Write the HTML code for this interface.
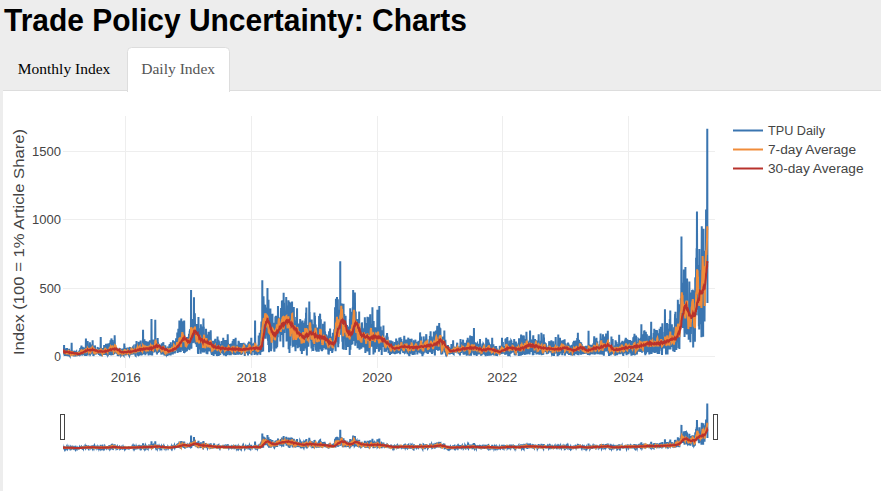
<!DOCTYPE html>
<html><head><meta charset="utf-8"><title>Trade Policy Uncertainty: Charts</title>
<style>
html,body{margin:0;padding:0;width:881px;height:491px;overflow:hidden;background:#ededed}
svg{display:block}
.t{font-family:"Liberation Sans",sans-serif;fill:#444;font-size:12px}
.s{font-family:"Liberation Serif",serif;font-size:15px}
.ln path,.ln use{vector-effect:non-scaling-stroke}
</style></head><body>
<svg width="881" height="491" viewBox="0 0 881 491">
<defs>
<clipPath id="clipMain"><rect x="63" y="116" width="652" height="252"/></clipPath>
<clipPath id="clipSl"><rect x="63" y="398" width="652" height="58"/></clipPath>
<path id="pb" vector-effect="non-scaling-stroke" d="M0 30l1 20 1-27 1 12 1 4 1 3 1-3 1-19 1 63 1-62 1-11 1 30 1-36 1 17 1-13 1 51 1-42 1 43 1-23 1-13 1 11 1 11 1-32 1-10 1 38 1 20 1-24 1 1 1-8 1-28 1 11 1-1 1 16 1 8 1-2 1 14 1-26 1 33 1-51 1 28 1-26 1-2 1 33 1-21 1 15 1 12 1-31 1 29 1-35 1 8 1-8 1 11 1 83 1-92 1 6 1 23 1-1 1-29 1 34 1-34 1 21 1-13 1 11 1-8 1-10 1-7 1 19 1-2 1 23 1-8 1-24 1 0 1 5 1 12 1-25 1 22 1 3 1-17 1 21 1 2 1-16 1 2 1-4 1-12 1 22 1-13 1 13 1-6 1 1 1-5 1 9 1 2 1-2 1-18 1 4 1 3 1-1 1 13 1-1 1 23 1-14 1-27 1 55 1-27 1-1 1 9 1 16 1 6 1-50 1 66 1-60 1-5 1 11 1 5 1-18 1-6 1 63 1-21 1-13 1 9 1-17 1 36 1-52 1 20 1 34 1-50 1 25 1 10 1-5 1 15 1-57 1 47 1-14 1 22 1-5 1 77 1-96 1 10 1-41 1 41 1-4 1 13 1 35 1-33 1-32 1 89 1-81 1-9 1-2 1-12 1 24 1 15 1 21 1-5 1-50 1 28 1-35 1 57 1 40 1-43 1-36 1 12 1 33 1-49 1 2 1 16 1 44 1-35 1 2 1 31 1 0 1-43 1-16 1 32 1 65 1-79 1-17 1 47 1-67 1 29 1-10 1-15 1 22 1 27 1-21 1 2 1-20 1 64 1-13 1-51 1 20 1 5 1-27 1 38 1-23 1 5 1-6 1 2 1 8 1 13 1-31 1 11 1-5 1 38 1 3 1-40 1-6 1 11 1-9 1 8 1-21 1 23 1 24 1-38 1 12 1 31 1-45 1-11 1 52 1-39 1 37 1 86 1-101 1-22 1 29 1-32 1-15 1 8 1 33 1-22 1 17 1-25 1 33 1 16 1-26 1 11 1-16 1-20 1 19 1 5 1 11 1 38 1-34 1-25 1 18 1-32 1 57 1-10 1-40 1 33 1-32 1 56 1 17 1-45 1 0 1-30 1 8 1-17 1 57 1 20 1-76 1 18 1 67 1-56 1-25 1 2 1 39 1 38 1-68 1-12 1 79 1 1 1-33 1-4 1 44 1-69 1 37 1-23 1 75 1-88 1-22 1 9 1 2 1 106 1 5 1-107 1 0 1 4 1 89 1 3 1-79 1-30 1 6 1-6 1 64 1-41 1 22 1 7 1-47 1 48 1 44 1-86 1 133 1-60 1-46 1 21 1-8 1-31 1-6 1 46 1-35 1 31 1-45 1 13 1-15 1 5 1 3 1-1 1 28 1-17 1-35 1 5 1 35 1 0 1 1 1-42 1 21 1 21 1 9 1-34 1 39 1 3 1-13 1-35 1 10 1-7 1 21 1 5 1-35 1 39 1-35 1 2 1 43 1-31 1-5 1 21 1-14 1 12 1 19 1-51 1 3 1 26 1-23 1 0 1-2 1 37 1 3 1-33 1 77 1-44 1 2 1-43 1 15 1-7 1 44 1-24 1 1 1-30 1 8 1 3 1 42 1-43 1 1 1 10 1-7 1 17 1 26 1-34 1 32 1-38 1 31 1-39 1-6 1 45 1 1 1-44 1-3 1-3 1 6 1 54 1-57 1 59 1-61 1 54 1-42 1 36 1-31 1 27 1 0 1 1 1-12 1-29 1 30 1 17 1-37 1 23 1-24 1 43 1 2 1-38 1 32 1-32 1 19 1-34 1 45 1-15 1 11 1 0 1-23 1 26 1-13 1 0 1 44 1-82 1-1 1 26 1-3 1 29 1-21 1 76 1-54 1-15 1-4 1 50 1-32 1 10 1 1 1-57 1-1 1 5 1 29 1 22 1 39 1-100 1 34 1 61 1 0 1-15 1-11 1-49 1-16 1 19 1 15 1 72 1-37 1-18 1-22 1-7 1-24 1 10 1 7 1 51 1 10 1-29 1-44 1 28 1 40 1 115 1-133 1-34 1-9 1 28 1 24 1-45 1 39 1 60 1-88 1 19 1-41 1 16 1-23 1 54 1 50 1-12 1-34 1 39 1-85 1 11 1 51 1-51 1 4 1 2 1-12 1 24 1 59 1-55 1-17 1 36 1 2 1-67 1 102 1-58 1-33 1 71 1-7 1 16 1-86 1 98 1 0 1-93 1 92 1-75 1-20 1 45 1-50 1 31 1 233 1-200 1-29 1 15 1-53 1 36 1-5 1 18 1-25 1 93 1-79 1 32 1 24 1-17 1-55 1 23 1 31 1-49 1 71 1 13 1-18 1-6 1 174 1-205 1-16 1 45 1-56 1 21 1-8 1 63 1-89 1 6 1-14 1 65 1-55 1 44 1 66 1-109 1 73 1-3 1-41 1 36 1-28 1 10 1 17 1-17 1 1 1-40 1 27 1-24 1 23 1 24 1-30 1-11 1-16 1 33 1 13 1-51 1-8 1 56 1 26 1-66 1 30 1-2 1 31 1 1 1-62 1 43 1 26 1 7 1-90 1 20 1 25 1-23 1-3 1-25 1 3 1 22 1-15 1 29 1 35 1-45 1 23 1-43 1-2 1 31 1 4 1-2 1 0 1-18 1 24 1-34 1 43 1-60 1 69 1-52 1 30 1-15 1 23 1-48 1 31 1 17 1 2 1-47 1 72 1-46 1 52 1-50 1-15 1-4 1 28 1-43 1 97 1-49 1 27 1-52 1 16 1-30 1 15 1 43 1-14 1-27 1 20 1 26 1-65 1 104 1-70 1 63 1-56 1 39 1-34 1 31 1 14 1-66 1-11 1 23 1-28 1 36 1-23 1 77 1-58 1-4 1 2 1 81 1-81 1 21 1 42 1 3 1-77 1 73 1 60 1-80 1-70 1 49 1 3 1 13 1 113 1-68 1-76 1 120 1-146 1 34 1 195 1-204 1 95 1 73 1-194 1 129 1-123 1 0 1-5 1 36 1 37 1 171 1-82 1-25 1-17 1-79 1 46 1 138 1-66 1 30 1-172 1 116 1-126 1 30 1 137 1-124 1 76 1-133 1 236 1-96 1-17 1-64 1 59 1-109 1 1 1 58 1-61 1 50 1 31 1 20 1-34 1-54 1 63 1 33 1-104 1 94 1-30 1 34 1-10 1 7 1 0 1 2 1-81 1 89 1-48 1 25 1 46 1-32 1-87 1 15 1 125 1-56 1 56 1-1 1-1 1-53 1 58 1-56 1 351 1-427 1 5 1 112 1 40 1-29 1-52 1 136 1-63 1-110 1 176 1-94 1 34 1-102 1 136 1-124 1-17 1 326 1-328 1 68 1-72 1 90 1 125 1-105 1-73 1 47 1-57 1-37 1 47 1-28 1-12 1 5 1 23 1-56 1 168 1-78 1-3 1-29 1 84 1-56 1-133 1 128 1-132 1 271 1-237 1 28 1-18 1 52 1 65 1-100 1 128 1-123 1 31 1 16 1 1 1-27 1-85 1 215 1-177 1 80 1-19 1-39 1 139 1-137 1-44 1 88 1-50 1-31 1-7 1-7 1 153 1-4 1 97 1-229 1 169 1-101 1-27 1-60 1 55 1-13 1-31 1 30 1-25 1 80 1 30 1-69 1 33 1 83 1-95 1 44 1-131 1 104 1 36 1-138 1 119 1-125 1 83 1-62 1 13 1 69 1 41 1-64 1 85 1-144 1 17 1 23 1 10 1 23 1-62 1-4 1 130 1-77 1-59 1 78 1 76 1-74 1-81 1 20 1-35 1 43 1-36 1-17 1 56 1-22 1-32 1 66 1 32 1-83 1 86 1-93 1 70 1-89 1 102 1-11 1 13 1-25 1 10 1-43 1-33 1 106 1-89 1 96 1-101 1 50 1-41 1 42 1-63 1 56 1-16 1 51 1-104 1 15 1 52 1-21 1 97 1-99 1-31 1 64 1 36 1 6 1-119 1 55 1-6 1 39 1-82 1 102 1-85 1-14 1 26 1 8 1-33 1 72 1-15 1-27 1 30 1-2 1 4 1 2 1-28 1 64 1-45 1 30 1-72 1 17 1 25 1-47 1 28 1 88 1-89 1 73 1-112 1 42 1-44 1 24 1 0 1 51 1 7 1-56 1 1 1-24 1 103 1 0 1-80 1-31 1 80 1-75 1 62 1 42 1-99 1 44 1-45 1 23 1 16 1 113 1-77 1-64 1 70 1-26 1-13 1-18 1 23 1 28 1-58 1-19 1 82 1-33 1 9 1-10 1-30 1 0 1 46 1-64 1 37 1 48 1-28 1-34 1 22 1-15 1-18 1 5 1 26 1 42 1 18 1-70 1-23 1 96 1-88 1 101 1-115 1 38 1-14 1 13 1 40 1-24 1-37 1-4 1-4 1 1 1 18 1 97 1-126 1 35 1 40 1-57 1 51 1-57 1 14 1 48 1-51 1-9 1 56 1-16 1 11 1-63 1 9 1 57 1 35 1-79 1 73 1-92 1 11 1 59 1-51 1 3 1-18 1-3 1 81 1-19 1-30 1-35 1 11 1-14 1 63 1-53 1 77 1-43 1-39 1 24 1 14 1 5 1 19 1-25 1 28 1 14 1-53 1 39 1 19 1-37 1-25 1 49 1-52 1-8 1-23 1 18 1 15 1 35 1-21 1 15 1-30 1 45 1-58 1 51 1-2 1-27 1-9 1 31 1-28 1 34 1 6 1-20 1-22 1-29 1 84 1 2 1-20 1 26 1-79 1 86 1-28 1 24 1-23 1-22 1-33 1 8 1 10 1-24 1 17 1 15 1 40 1-63 1 108 1-105 1-21 1 44 1-8 1 27 1-42 1 11 1 33 1 20 1-45 1 35 1-24 1 1 1 9 1 12 1-2 1-1 1-50 1-18 1 54 1-17 1 213 1-193 1-2 1-43 1 9 1-8 1 43 1-6 1-28 1-17 1 64 1-5 1-32 1-35 1 54 1-49 1 14 1 34 1-40 1 65 1-52 1 119 1-115 1 4 1-19 1 81 1-81 1 149 1-124 1 42 1-79 1 49 1-32 1 33 1 131 1-77 1 104 1 35 1-222 1 115 1 59 1-150 1 500 1-420 1 236 1-241 1 179 1-275 1 259 1 145 1-80 1-228 1 33 1 82 1 93 1-85 1 123 1-5 1-3 1-156 1 71 1-155 1 93 1 135 1-189 1 113 1-100 1 139 1-162 1 161 1 21 1-124 1 283 1-328 1-35 1-22 1 92 1-123 1 330 1-262 1 21 1-142 1 171 1 70 1-30 1-128 1 81 1-137 1 144 1 148 1-192 1-89 1 15 1-46 1 60 1-42 1 193 1-89 1 16 1 31 1-4 1 109 1-184 1 2 1 104 1-69 1-42 1 61 1 19 1 43 1-114 1-84 1-12 1 13 1 132 1 50 1-77 1-1 1 138 1-159 1 60 1 18 1 88 1-240 1 188 1 26 1 24 1-27 1-202 1 29 1 75 1 27 1-58 1 229 1-48 1-74 1 40 1-10 1-5 1-96 1 39 1 65 1-36 1-26 1-30 1-19 1 11 1-70 1 99 1 22 1-15 1 138 1-116 1-50 1-30 1 17 1 232 1-15 1-177 1 195 1-201 1-23 1-3 1-30 1-86 1 117 1 282 1-231 1 157 1-137 1-84 1 56 1 77 1-55 1 78 1-48 1-13 1-63 1 113 1-68 1 64 1 122 1-152 1-173 1 86 1-74 1 185 1-116 1 135 1-126 1 123 1-132 1 183 1-134 1 172 1-358 1 320 1-294 1 229 1 91 1-373 1 147 1 25 1-39 1 28 1-109 1 124 1-15 1-33 1 62 1 178 1-224 1 199 1-4 1-112 1 148 1-178 1-56 1-12 1-71 1 2 1 31 1 17 1 58 1-120 1 289 1-102 1-1 1 5 1-169 1 64 1 42 1 39 1-112 1-58 1-30 1 113 1-66 1 53 1 149 1-140 1 46 1-57 1 107 1 109 1-234 1 114 1-93 1-79 1 30 1 84 1 45 1-94 1 115 1-30 1-16 1-78 1-50 1 37 1 51 1-55 1 50 1 123 1-13 1-150 1-63 1-1 1 72 1-44 1 87 1-16 1-37 1-90 1 190 1 46 1-80 1 89 1-185 1 59 1-4 1 9 1 13 1-100 1-14 1 29 1 87 1 87 1-8 1-153 1 165 1-104 1 116 1-112 1 130 1-205 1-14 1 261 1-97 1 134 1-312 1 169 1-206 1 215 1-133 1 51 1-56 1 7 1 50 1 88 1-121 1-38 1 48 1 28 1 67 1-10 1 197 1-266 1 190 1-86 1-21 1-42 1-41 1-5 1 84 1-81 1-15 1 13 1-46 1-27 1 212 1-36 1-83 1 74 1-167 1 2 1 76 1 99 1-25 1-169 1 31 1-6 1 77 1-54 1 40 1-27 1 219 1-120 1-117 1 214 1-159 1 83 1-15 1 27 1-190 1 151 1-54 1-88 1 54 1-73 1 122 1-4 1 59 1-86 1 11 1 14 1-64 1 27 1 51 1-47 1 40 1-123 1 52 1 210 1-113 1-52 1-77 1 78 1 176 1 4 1-225 1 69 1-44 1 159 1-174 1 65 1-118 1 102 1-51 1 0 1-57 1 92 1-85 1 98 1-96 1 75 1 117 1-121 1 96 1-150 1 129 1-114 1 24 1-40 1 75 1 117 1-180 1 105 1-2 1-63 1-64 1 34 1 75 1-98 1 47 1 53 1-101 1 95 1-68 1-31 1 67 1-65 1-4 1-4 1 72 1 4 1-48 1-62 1 131 1-134 1 25 1 146 1-116 1 99 1-126 1 91 1 10 1 62 1-164 1 48 1-37 1 87 1-22 1 28 1-98 1 31 1 2 1 0 1 5 1-60 1 69 1-59 1 44 1 94 1-122 1 17 1 26 1 5 1-28 1 50 1-5 1 82 1-116 1 46 1-2 1 120 1 114 1-108 1-168 1-45 1 190 1 193 1-77 1-80 1-18 1-45 1-94 1 326 1-257 1-6 1 222 1-220 1 245 1-286 1-65 1 113 1-87 1 53 1 63 1-37 1 170 1-96 1 19 1-37 1-65 1-5 1 538 1-468 1 117 1-97 1 102 1 9 1 12 1 14 1-3 1-105 1 23 1-123 1-70 1 134 1-16 1-172 1 85 1-38 1 209 1 76 1-210 1-126 1 218 1 44 1-172 1 15 1-21 1 93 1-52 1 12 1 69 1 42 1-130 1-25 1-94 1 141 1-68 1 36 1-1 1 73 1-41 1-19 1-59 1 79 1-88 1-31 1 124 1-10 1 2 1-40 1 72 1-86 1-29 1-11 1 79 1-160 1 260 1-51 1 133 1-303 1 132 1 48 1-146 1 98 1 88 1-74 1-27 1 150 1-232 1 239 1-151 1-88 1 103 1 169 1-102 1 228 1-111 1-49 1-171 1 279 1-155 1 16 1-124 1-57 1 12 1 342 1-132 1-256 1 174 1-113 1 188 1-197 1 41 1-76 1 166 1 11 1-105 1 54 1-102 1 26 1-28 1-57 1 98 1-67 1 43 1 119 1 18 1-3 1 1 1-107 1 165 1-225 1-54 1 139 1-10 1-117 1 74 1-27 1-38 1 98 1-79 1 65 1-96 1 5 1 156 1-80 1 110 1-45 1-137 1 143 1-71 1-37 1 98 1-36 1 30 1-126 1 128 1-51 1 34 1 26 1-139 1 27 1 35 1 159 1-107 1-99 1-55 1 143 1-103 1 37 1-51 1 112 1 53 1-76 1 104 1-144 1 51 1-115 1 254 1-174 1-30 1 5 1-52 1 146 1 100 1-220 1 86 1-109 1 29 1-40 1-20 1 52 1 89 1 97 1 59 1-166 1 27 1 66 1-73 1 15 1-96 1 47 1 2 1 68 1-128 1 16 1 20 1 253 1-209 1-70 1 81 1 50 1-118 1-80 1 245 1-161 1-67 1 133 1-22 1 13 1-47 1-5 1-73 1 183 1-8 1-6 1-9 1-36 1-81 1 116 1-1 1-89 1-44 1 50 1 88 1 2 1 147 1-262 1 10 1 110 1-35 1-64 1-24 1-6 1 63 1-99 1 51 1 283 1-241 1-80 1 68 1-57 1 26 1 98 1-84 1 119 1-137 1 62 1-74 1-13 1 130 1-175 1 180 1-7 1-6 1-30 1-74 1 91 1-95 1 57 1-38 1 137 1-131 1-9 1 37 1-39 1 46 1-96 1 29 1 10 1-34 1 73 1-78 1 88 1-70 1 15 1-32 1 87 1 31 1-103 1 40 1 25 1 57 1-30 1-88 1 88 1-6 1-86 1 43 1-2 1-40 1-27 1 47 1 15 1 1 1 3 1-54 1 82 1-69 1-37 1 35 1-9 1-19 1 53 1-51 1 89 1 0 1-69 1-22 1 37 1 4 1-11 1 54 1-78 1 86 1-53 1 6 1-26 1 19 1 27 1-48 1 15 1-12 1 55 1-75 1 33 1-16 1 69 1-89 1 40 1 39 1-4 1-52 1 40 1-47 1 99 1-80 1-2 1-28 1 85 1 8 1-54 1 11 1-30 1 60 1-70 1 0 1 1 1 15 1 23 1-6 1-36 1 33 1 76 1-62 1 51 1-81 1 22 1-50 1 69 1 55 1-44 1-2 1 31 1-81 1 82 1-69 1 3 1-17 1 10 1 55 1-42 1-25 1-4 1 21 1-5 1-29 1 27 1-2 1-12 1-2 1 80 1 35 1-35 1 7 1-103 1 36 1 10 1-26 1 18 1 63 1-5 1-19 1-25 1-42 1 94 1-27 1-32 1 9 1-24 1-20 1-12 1 11 1 68 1-52 1 86 1 6 1-103 1 64 1-90 1 48 1-3 1-51 1 44 1 14 1 36 1-54 1 86 1-101 1 1 1 100 1-75 1 49 1-12 1 32 1 8 1-107 1 14 1 61 1-83 1 60 1-54 1-10 1 58 1 11 1-43 1 5 1-12 1 86 1-84 1 76 1-1 1-10 1-84 1 73 1-8 1 0 1 45 1-53 1-11 1-10 1 50 1-64 1 65 1-42 1 7 1 43 1-21 1-72 1 73 1-43 1 2 1-6 1-6 1 49 1 31 1-51 1-12 1-4 1 6 1 5 1-31 1 70 1-50 1 128 1-57 1-31 1-6 1 27 1 36 1-55 1-6 1-66 1 86 1-42 1-7 1 2 1-42 1-13 1 82 1 1 1-55 1 2 1-18 1 132 1-6 1-53 1-19 1-9 1 65 1-97 1 37 1 49 1-76 1 31 1 45 1-21 1-30 1 12 1 66 1 23 1-36 1-16 1-88 1 65 1-1 1-62 1 69 1-33 1-42 1 10 1 59 1-25 1 12 1-7 1 0 1-25 1 48 1 35 1-68 1-16 1 108 1-118 1 90 1-8 1 71 1-86 1 6 1-75 1 23 1 67 1 25 1-22 1-105 1 69 1-62 1 5 1 38 1 14 1-4 1-21 1 46 1 8 1-31 1 103 1-106 1 53 1-88 1 104 1-117 1-21 1 133 1-32 1 15 1 43 1-3 1 26 1-115 1 96 1-91 1 23 1-41 1-14 1 154 1 22 1-177 1 34 1-4 1-34 1 49 1-48 1 124 1-124 1 152 1-137 1 185 1-199 1 164 1-2 1-159 1 74 1 81 1 3 1-117 1 20 1-10 1-32 1-53 1 23 1 5 1-23 1 31 1 69 1-103 1 36 1 50 1-47 1 84 1 5 1-16 1-55 1 37 1-26 1-32 1-4 1 142 1-92 1-69 1 6 1 23 1 0 1 64 1-48 1-36 1 2 1-29 1-3 1 2 1 28 1 5 1-16 1-10 1 40 1 18 1-47 1-11 1 67 1-65 1 51 1-26 1-16 1 36 1 0 1-37 1 12 1 0 1-24 1 46 1-37 1 16 1-12 1 18 1-22 1-4 1 44 1-41 1 69 1-62 1 30 1-25 1-10 1-4 1 12 1 10 1 41 1-62 1 97 1-87 1-13 1-1 1 54 1-31 1-14 1 24 1-12 1 19 1-19 1 18 1-20 1 21 1-30 1 15 1 19 1 3 1-36 1 43 1-26 1-12 1 42 1 17 1 7 1-45 1-20 1 11 1-11 1 37 1-13 1-38 1 4 1-1 1 48 1-15 1-9 1-12 1 3 1 18 1-50 1 30 1 17 1 74 1-64 1-17 1 9 1-31 1 27 1 51 1-40 1 14 1 13 1-51 1 3 1 52 1-52 1 66 1 15 1-70 1-36 1 11 1-15 1 75 1-42 1 3 1-32 1 57 1-53 1-5 1 85 1-13 1-30 1-19 1 41 1-65 1 33 1 37 1-5 1-75 1 113 1-49 1-41 1 6 1 78 1 25 1-24 1-4 1 13 1-90 1-20 1 13 1 10 1 8 1-37 1 48 1-9 1-29 1 35 1 103 1-122 1 53 1-58 1 46 1-67 1 80 1 63 1-92 1-30 1 69 1 52 1-87 1-31 1 6 1 27 1-22 1 57 1-35 1 9 1-55 1 85 1 106 1-186 1-12 1 28 1-24 1 15 1 51 1 23 1-12 1-78 1 27 1-12 1-13 1 75 1-15 1 14 1-86 1 87 1 2 1-75 1 50 1-39 1 52 1-18 1-44 1 63 1-65 1 17 1 56 1 3 1-68 1 22 1-17 1 4 1 46 1 49 1-99 1 15 1-21 1-6 1 15 1-27 1 74 1-36 1-32 1 3 1 38 1-18 1-18 1 71 1 7 1-79 1 39 1-3 1 21 1 18 1-2 1-10 1 5 1-11 1-49 1 0 1 24 1 15 1-21 1-29 1 54 1-25 1-39 1 49 1-38 1 124 1-78 1-22 1-4 1 15 1 52 1-40 1-17 1 43 1-73 1-8 1 115 1 4 1-78 1 61 1-94 1 87 1-36 1-41 1-7 1-10 1 30 1 44 1-45 1 54 1-29 1-17 1-7 1-5 1-21 1 3 1 49 1-40 1 28 1-6 1 93 1-93 1-24 1 4 1 13 1-23 1 52 1 24 1-41 1 1 1-14 1-29 1 18 1 25 1-21 1 39 1 6 1-54 1-1 1-11 1 61 1-63 1 36 1 35 1-46 1-2 1-17 1-7 1 52 1-12 1-21 1-3 1 5 1 9 1-6 1-4 1 24 1-28 1 7 1-4 1 0 1-5 1 29 1-19 1 43 1 0 1-50 1-8 1 33 1 7 1 18 1 0 1 1 1 1 1-56 1 48 1-39 1 110 1-92 1-11 1-13 1 9 1 75 1-81 1 3 1 12 1-12 1 24 1-16 1 33 1-45 1 3 1 50 1-41 1 29 1-11 1-41 1 117 1-89 1 88 1-55 1 60 1-84 1 35 1-1 1-69 1 85 1-85 1 128 1-95 1 13 1 54 1-40 1-64 1 0 1 82 1-46 1-1 1 29 1 7 1-62 1-2 1 47 1 7 1 46 1-76 1-22 1 45 1-22 1 21 1-40 1 90 1-2 1-84 1 17 1 4 1 0 1 47 1 4 1-25 1 1 1-45 1 69 1-62 1-5 1 22 1-20 1 43 1 51 1-97 1-6 1-15 1 45 1-34 1-6 1-7 1 64 1-61 1 98 1-69 1 44 1-31 1-25 1 28 1-28 1 45 1 2 1-21 1 33 1-46 1 30 1-43 1 61 1 10 1-95 1 45 1 85 1-125 1 27 1 39 1-36 1-31 1 38 1 8 1 7 1 66 1-122 1 95 1 60 1-124 1 45 1 5 1-4 1-71 1 11 1 36 1-6 1 31 1 71 1-29 1-95 1-15 1 11 1-11 1 138 1-90 1 29 1-46 1 82 1-5 1-47 1-64 1 110 1-105 1 69 1-6 1 30 1 0 1-10 1 81 1-63 1-104 1 91 1-34 1-46 1 0 1 84 1-12 1-72 1 77 1-38 1 26 1 17 1-19 1-12 1 1 1 39 1-101 1 20 1 50 1 105 1-65 1-91 1 93 1-71 1-20 1 44 1-38 1 81 1-52 1-38 1 72 1 10 1-12 1-47 1 56 1-103 1 17 1 112 1 17 1-144 1 74 1-48 1-2 1-9 1 70 1-71 1 75 1 0 1 27 1-33 1-19 1 39 1 0 1-3 1-37 1 37 1-96 1 23 1 78 1-99 1 47 1-5 1-42 1 17 1 14 1-20 1 10 1 39 1 12 1 74 1-59 1-75 1 26 1-42 1 39 1 18 1 26 1-4 1-51 1-24 1 76 1-47 1 68 1-35 1-35 1 129 1-141 1-22 1 31 1 0 1-24 1 39 1-14 1-27 1 24 1-15 1-12 1 73 1 78 1-84 1 60 1-103 1 26 1 1 1-29 1 70 1-59 1 18 1-10 1-5 1 7 1 42 1-48 1-4 1-2 1 10 1-36 1 39 1 11 1-46 1 45 1-3 1-1 1 2 1-43 1 37 1-16 1 40 1-36 1 22 1 36 1 8 1-58 1-9 1-14 1 7 1 30 1-3 1-27 1 23 1-17 1 10 1 41 1 24 1-85 1-10 1-5 1 3 1 29 1-17 1-29 1 52 1-10 1 38 1 27 1-68 1 3 1 27 1-70 1 21 1 12 1 39 1 11 1-64 1 25 1 17 1 4 1 3 1 70 1-73 1-47 1 23 1-7 1 27 1-28 1 29 1-10 1 7 1 12 1-66 1 0 1 21 1 46 1 84 1-115 1-4 1 0 1-32 1 58 1-53 1 53 1-52 1 71 1 50 1-61 1 14 1-65 1 25 1-7 1-11 1 57 1-61 1 90 1-15 1-52 1 52 1-92 1 17 1 67 1 7 1-61 1 56 1-41 1 66 1-61 1 25 1-46 1-11 1 4 1-2 1 96 1-119 1 8 1 43 1-12 1 46 1 3 1-44 1 18 1-22 1-9 1 8 1 17 1 14 1-47 1-6 1 59 1-10 1-52 1 54 1 27 1-19 1-65 1 75 1-56 1-25 1 42 1-30 1 10 1-2 1 50 1-32 1 11 1-5 1-28 1 19 1-31 1 44 1-8 1 26 1-69 1 10 1-1 1 67 1-76 1 19 1 3 1-6 1 30 1-36 1 85 1-74 1 42 1-51 1 93 1-76 1-31 1 56 1 36 1-31 1-36 1-2 1-1 1 34 1-13 1 67 1-61 1-6 1 60 1-60 1 11 1-15 1-32 1 121 1-120 1 43 1-16 1 131 1-162 1 34 1-9 1-26 1 39 1 71 1-4 1-70 1 62 1-33 1 26 1 4 1-65 1-18 1 79 1-58 1 46 1-77 1 91 1-63 1-13 1 63 1-22 1 9 1-51 1-3 1 27 1-33 1 32 1 17 1 2 1 0 1 7 1-44 1 18 1 7 1-36 1 7 1 1 1 8 1-13 1 52 1-48 1 6 1 6 1-18 1 58 1-49 1 19 1-22 1 25 1-11 1 37 1-33 1-23 1 9 1 42 1-62 1 65 1-43 1-2 1 157 1-170 1 56 1 0 1 1 1-47 1-18 1 71 1 4 1-69 1 14 1 56 1-49 1-16 1 5 1 60 1-35 1 30 1-65 1 39 1 23 1 7 1-59 1-1 1 33 1 7 1 19 1-24 1 29 1 0 1-60 1 35 1 43 1 40 1-126 1 36 1-19 1-24 1 55 1-52 1 21 1 51 1-52 1 7 1 86 1-103 1 110 1-48 1 16 1-75 1 60 1 22 1-96 1 39 1 31 1-21 1-48 1 45 1-30 1 11 1-7 1 8 1 33 1 7 1-15 1 20 1-74 1 17 1 84 1-19 1 71 1-41 1-48 1 28 1 20 1-91 1 32 1-54 1 13 1 15 1 75 1-95 1 18 1 77 1 45 1-71 1 10 1-18 1-3 1-74 1 72 1 67 1-109 1 8 1 40 1 3 1-31 1 79 1-51 1-46 1 12 1-1 1 119 1-132 1 111 1-51 1-5 1-51 1 67 1-6 1-3 1 0 1 90 1-113 1-12 1-14 1-24 1 81 1-48 1-54 1 75 1-29 1-22 1 13 1 5 1 24 1-20 1 14 1-46 1-9 1 46 1 7 1-40 1 124 1-89 1-40 1 17 1 27 1-17 1 16 1 68 1-109 1 5 1 17 1-15 1 0 1 10 1 24 1-23 1 13 1 19 1-9 1-25 1 45 1-34 1-41 1 43 1 70 1-101 1 72 1-59 1-5 1 77 1-1 1-19 1-27 1-45 1 12 1 11 1 14 1-29 1 12 1 62 1-50 1-10 1 8 1 8 1-12 1 122 1-122 1 67 1-64 1-11 1-11 1 69 1-65 1 10 1 51 1-8 1 14 1 0 1 3 1-8 1 13 1-73 1 46 1-4 1 50 1-99 1 57 1-62 1 27 1-34 1 59 1 5 1-46 1 87 1-36 1-51 1 48 1-33 1 32 1 47 1-48 1 57 1-77 1 88 1-90 1 87 1-94 1-7 1-23 1 25 1 1 1 3 1 88 1-31 1-4 1-19 1-46 1 70 1-6 1-73 1 96 1 0 1-67 1 12 1 2 1-30 1 60 1-55 1 38 1 47 1-49 1-41 1 67 1-75 1 91 1-6 1-101 1 100 1-26 1-27 1-44 1 28 1 46 1-49 1 81 1-19 1-31 1 76 1-130 1 85 1 16 1 34 1-115 1 77 1 58 1-147 1-10 1 58 1 23 1-66 1-11 1 15 1 10 1 115 1-101 1 89 1-15 1-94 1-17 1 38 1 44 1-50 1 2 1 55 1-42 1 21 1 6 1-4 1-50 1 84 1-2 1-4 1 2 1-51 1 53 1-8 1 8 1-68 1-2 1-13 1 11 1-5 1 68 1-9 1 136 1-148 1-2 1-25 1-32 1 16 1 1 1 11 1-22 1 44 1 85 1-56 1-41 1-5 1 68 1-69 1 126 1-112 1 117 1-146 1 13 1-37 1 148 1-160 1 127 1-47 1 91 1-160 1 139 1-48 1-14 1-25 1 91 1-66 1-66 1 84 1-36 1-3 1 41 1-80 1 16 1 43 1 4 1-27 1 27 1 52 1-137 1 131 1-14 1 1 1-111 1 101 1-4 1-45 1-45 1-7 1 83 1 148 1-142 1-92 1 95 1 2 1-43 1 45 1 4 1-34 1 12 1-17 1 26 1-52 1-19 1-7 1 141 1-104 1-22 1 156 1-84 1-15 1-78 1 37 1 10 1 122 1-111 1 1 1-10 1-44 1 33 1 3 1 52 1 76 1-63 1 58 1-34 1-72 1-62 1 23 1 125 1-151 1 67 1 42 1-70 1 46 1-3 1 15 1-96 1 76 1 108 1-103 1 2 1-28 1 46 1-62 1 114 1 45 1-118 1 7 1 11 1-60 1-17 1 54 1-83 1 92 1 139 1-140 1-24 1 1 1-3 1 7 1 56 1-30 1 2 1-49 1 30 1 22 1-39 1 104 1-76 1 242 1-248 1-40 1 24 1-23 1 81 1-124 1 69 1 60 1-10 1 79 1-127 1 158 1-109 1-27 1-94 1 109 1-42 1-7 1 71 1-80 1 8 1-22 1 151 1-139 1 175 1-126 1-11 1 171 1-133 1-60 1 256 1-284 1 63 1-35 1 32 1 28 1-53 1 20 1-37 1 166 1-48 1-59 1-29 1 58 1-17 1-19 1-11 1-72 1 42 1-25 1 95 1-98 1 162 1-54 1-69 1-58 1 62 1 181 1 34 1-237 1 253 1-119 1-8 1-73 1-23 1-55 1 206 1-35 1-159 1 136 1-4 1 34 1 53 1-175 1 311 1-153 1-128 1 52 1 38 1-64 1-37 1-60 1 111 1-119 1 216 1 111 1-61 1-134 1 178 1-137 1 117 1 80 1-3 1-175 1 232 1 397 1-565 1 204 1-234 1 87 1-81 1 185 1-143 1 210 1-331 1 64 1-46 1 17 1 247 1 145 1-343 1 224 1-302 1-71 1 82 1 30 1 169 1-254 1 483 1-342 1-63 1 191 1 115 1-190 1-66 1 48 1-185 1 408 1-10 1-375 1-10 1 27 1-41 1 18 1 123 1-97 1 181 1-262 1 116 1-2 1 94 1 216 1-410 1 121 1-114 1 36 1 175 1-251 1 220 1 144 1-304 1 149 1 96 1-29 1 36 1-21 1-91 1 182 1-53 1-72 1 96 1 31 1-156 1-267 1 89 1 140 1 100 1-150 1 14 1-140 1 11 1-15 1 365 1-371 1 191 1 267 1 12 1-212 1-30 1 17 1 367 1-418 1 203 1 286 1-449 1 716 1-316 1-395 1 252 1-115 1-103 1 84 1-119 1 321 1-367 1 195 1-274 1 133 1-157 1 587 1-270 1-279 1 168 1 228 1-368 1 163 1-12 1-116 1-5 1 108 1 115 1-376 1 578 1 233 1-243 1-251 1 350 1-138 1 161 1-360 1 208 1-533 1 757 1 31 1-512 1-84 1 66 1-145 1 133 1-136 1 261 1 255 1-47 1 47 1-10 1-39 1-22 1-22 1 395 1-484 1 76 1 304 1-26 1-21 1-15 1 756 1-1272"/>
<path id="po" vector-effect="non-scaling-stroke" d="M0 30l1 10 1-6 1 0 1 1 1 1 1 1 1-2 1 5 1 0 1-4 1 0 1-5 1-3 1-1 1-4 1 0 1 7 1 0 1 2 1 2 1 6 1-7 1-1 1-3 1 4 1 2 1 0 1-2 1-2 1 2 1-4 1-5 1 0 1-1 1 3 1 3 1 6 1-2 1 1 1-4 1-5 1-1 1-1 1-3 1 5 1-3 1 5 1 1 1-4 1-1 1-2 1 8 1-1 1-4 1 5 1 3 1 0 1 4 1-13 1 2 1 0 1-1 1-3 1 0 1-5 1 1 1-1 1 4 1 1 1-2 1 1 1 2 1 0 1-2 1-3 1-1 1 0 1 3 1 3 1-1 1 2 1-1 1-4 1 2 1-2 1-2 1 1 1 0 1 0 1 3 1 0 1 2 1-3 1-1 1-1 1-1 1 0 1 0 1 3 1 4 1 0 1 7 1 3 1 1 1 3 1 1 1 5 1 1 1 2 1-1 1-3 1-2 1-4 1-8 1-1 1-1 1 4 1 3 1 3 1-1 1 8 1 0 1-5 1 2 1-2 1-1 1 3 1-2 1 7 1-4 1-2 1 3 1 2 1 1 1 12 1-4 1 6 1-7 1 1 1-2 1 0 1-6 1 3 1-3 1 15 1-2 1-2 1-5 1-11 1-3 1 3 1-6 1 4 1-1 1 3 1 0 1 4 1 8 1-1 1-6 1 4 1 4 1 2 1-6 1-9 1 3 1 3 1 2 1 1 1 9 1 2 1-2 1-5 1 11 1-2 1-8 1-2 1-5 1 2 1-5 1-16 1-1 1 4 1-5 1 5 1-2 1 8 1 9 1-2 1-2 1 1 1-3 1 5 1-7 1-5 1 2 1-1 1-1 1 6 1-5 1 0 1-1 1 5 1 5 1-1 1-4 1 1 1-1 1 1 1-8 1-5 1 5 1-1 1 0 1 6 1-2 1-1 1 4 1-6 1 6 1 16 1-3 1 0 1 6 1-6 1-3 1-6 1-15 1-3 1 3 1-5 1 4 1 8 1 4 1 1 1 1 1-4 1 3 1-2 1-2 1 7 1 0 1-1 1 5 1-3 1 5 1 2 1-10 1 0 1-1 1 5 1 12 1-3 1-2 1 0 1-4 1-2 1-1 1-1 1-5 1-3 1 11 1 2 1 0 1-7 1-4 1 11 1 0 1-12 1 8 1 11 1 6 1 1 1 1 1 0 1 8 1-6 1 4 1-4 1-7 1-12 1-1 1 8 1 13 1-14 1-1 1 3 1 14 1 14 1-12 1-17 1-1 1-2 1 7 1-12 1-9 1 3 1 1 1 7 1 13 1-7 1 17 1 6 1-2 1 8 1-1 1-11 1 1 1-12 1-9 1 3 1-7 1-4 1-1 1 0 1-7 1-1 1-2 1 3 1-5 1-2 1 3 1 2 1 2 1-7 1-2 1 6 1 6 1-3 1 2 1 2 1 7 1-2 1-3 1-5 1 3 1-3 1-7 1-1 1 0 1-1 1 5 1-1 1-4 1 5 1-3 1 4 1 7 1-7 1-2 1 2 1-4 1-2 1-4 1-1 1 6 1 1 1 9 1 5 1 6 1 0 1-4 1-4 1 6 1-8 1-2 1-6 1 1 1-1 1 6 1-6 1-2 1-2 1 2 1 4 1 6 1-4 1 6 1 1 1 4 1-1 1-4 1-1 1 4 1-7 1-3 1-7 1 0 1 8 1-7 1 2 1-1 1 8 1 1 1 7 1-6 1 6 1-3 1 7 1-3 1-1 1-2 1 5 1-5 1-1 1-4 1 3 1 8 1-2 1 0 1 1 1 0 1-1 1-1 1-4 1 4 1-1 1 1 1 1 1 5 1-2 1 6 1-7 1-7 1 0 1-4 1 2 1-1 1 3 1 8 1 5 1 1 1 9 1 0 1 4 1-6 1-7 1-4 1-4 1-6 1 1 1 6 1-9 1 4 1 13 1 12 1 5 1 2 1-12 1 1 1-2 1-8 1 2 1-1 1-2 1 2 1 3 1-3 1-3 1-13 1-1 1 4 1 2 1-3 1 5 1 9 1 25 1-2 1-8 1-6 1 5 1 5 1-8 1-18 1 9 1 1 1 5 1-4 1-6 1-3 1 0 1-2 1 9 1 1 1 13 1-1 1 3 1 3 1-12 1-9 1-4 1-12 1 4 1 11 1-4 1 1 1 5 1 6 1-3 1 9 1-9 1-4 1 7 1 1 1 4 1 1 1 0 1 8 1 0 1 3 1-7 1-12 1 7 1-15 1-10 1 37 1-5 1 1 1 7 1-8 1 5 1-1 1-31 1-6 1 11 1-2 1 10 1 8 1 7 1-4 1 3 1-6 1-1 1 4 1 2 1 2 1 10 1 31 1-3 1 2 1-2 1-12 1-6 1-7 1-22 1-6 1-2 1-11 1 6 1-4 1 2 1 4 1 0 1 10 1 12 1-4 1 10 1-1 1-9 1 9 1-4 1-3 1-3 1-4 1-4 1-2 1-1 1-2 1-5 1-1 1 0 1 5 1-5 1-10 1 2 1 8 1 0 1 0 1-2 1 10 1 11 1-7 1-3 1 10 1 6 1-6 1-8 1-5 1 1 1-5 1-13 1-13 1 3 1-3 1-2 1 7 1 1 1 7 1 1 1-3 1 4 1 1 1-5 1 1 1-4 1 6 1 0 1 3 1-7 1 4 1-4 1 2 1-2 1 5 1-8 1 6 1-2 1 6 1-6 1 7 1-2 1 11 1 0 1-4 1-6 1 6 1-12 1 10 1-5 1 5 1 1 1 3 1-4 1 3 1-4 1 0 1-7 1 4 1 4 1 0 1 12 1-3 1 7 1 3 1 6 1-3 1 11 1-2 1-1 1-12 1 0 1-10 1 0 1-8 1 1 1 2 1 3 1 1 1 15 1 0 1 5 1 0 1 10 1-2 1 9 1 6 1 6 1-7 1-6 1-6 1 7 1 12 1-5 1-5 1 22 1-6 1-2 1 25 1-21 1 3 1 24 1-21 1 18 1-4 1-32 1-4 1-12 1-17 1 35 1 5 1 19 1 16 1 6 1 8 1 21 1-12 1 4 1-17 1 2 1-5 1-8 1-7 1-15 1-9 1-4 1 14 1 18 1 11 1-17 1 9 1-18 1 1 1-24 1-19 1-9 1 4 1-1 1 9 1 1 1 2 1 16 1-6 1 2 1-4 1 5 1 11 1 4 1-2 1 14 1-11 1 6 1-6 1-1 1 5 1 0 1-13 1 2 1 6 1 5 1 10 1 2 1 8 1 12 1 18 1-7 1 50 1-18 1-18 1-1 1 12 1-1 1 0 1-31 1 21 1 5 1 14 1-5 1 4 1-3 1-3 1-12 1 1 1 23 1-11 1-6 1-1 1-9 1 28 1 15 1-42 1 11 1-6 1-2 1-7 1-30 1-16 1-5 1-8 1-9 1 21 1 3 1 7 1 4 1 16 1 4 1-7 1-12 1-20 1 19 1-11 1-19 1-13 1 13 1 5 1 8 1-11 1 4 1 5 1 10 1 3 1-11 1-9 1 4 1-3 1 3 1-2 1-7 1 16 1 9 1-28 1 10 1-9 1-11 1-6 1-27 1 15 1 20 1 22 1-4 1 24 1 11 1 9 1-22 1-14 1-29 1-2 1-21 1-10 1 5 1 18 1 0 1 7 1 24 1 5 1 15 1-15 1-4 1 10 1-14 1-8 1-13 1-8 1 2 1-10 1-6 1 20 1-7 1 24 1-9 1 3 1 3 1-4 1-7 1-7 1-20 1 20 1 6 1-6 1 4 1 12 1 10 1-1 1-16 1-11 1 4 1-13 1-25 1-7 1 1 1-6 1 8 1 7 1 0 1 14 1-6 1 6 1-1 1 3 1-2 1 11 1-5 1 10 1-6 1 2 1 2 1-8 1 3 1-8 1-2 1-2 1 9 1-15 1 6 1-11 1 12 1-11 1-3 1-1 1 5 1 10 1-1 1-13 1 11 1 14 1 7 1-6 1-13 1 1 1 11 1-11 1 0 1-14 1 1 1-3 1 0 1-12 1 11 1-6 1 3 1 8 1 5 1 5 1 9 1-6 1 7 1 3 1 4 1-7 1-4 1-2 1-3 1-10 1 10 1-7 1 14 1-5 1-3 1-2 1-2 1-16 1 5 1-4 1 3 1-2 1 0 1 12 1 12 1-7 1-13 1 7 1-4 1 9 1 0 1-15 1 4 1 1 1-7 1 6 1 13 1-3 1 1 1 5 1 8 1 3 1-2 1-15 1 0 1 1 1-12 1 4 1 0 1 5 1 0 1-9 1 0 1 9 1-12 1-1 1 4 1 1 1 1 1 4 1-5 1 1 1-3 1-6 1 4 1 12 1-2 1-3 1 14 1 0 1 11 1-12 1-8 1-1 1 4 1-3 1 5 1-14 1 2 1-5 1-2 1-1 1 6 1-7 1 2 1 9 1 1 1 8 1-2 1-14 1 10 1-1 1-9 1 7 1-2 1 7 1-3 1-9 1 6 1 13 1-6 1 6 1-9 1 2 1 10 1-7 1-11 1-2 1-13 1 12 1 7 1-5 1-3 1-2 1-1 1 8 1-11 1 3 1 1 1 0 1 2 1 6 1-2 1 8 1-6 1 4 1 11 1 0 1 4 1 6 1-2 1-3 1 1 1-8 1-3 1-11 1-11 1-4 1 5 1-5 1 5 1 1 1 11 1 0 1 5 1 0 1 0 1-5 1 5 1-6 1 7 1 1 1-2 1-1 1-4 1 3 1 8 1 0 1 3 1-5 1 10 1 10 1 2 1-2 1-3 1-10 1 1 1-9 1-8 1-10 1-4 1 5 1 0 1 15 1-2 1-1 1 2 1 0 1-3 1 0 1-13 1 6 1 12 1 0 1 6 1-2 1 4 1 4 1 1 1-2 1 5 1-8 1-7 1 1 1-4 1 26 1-2 1-2 1-1 1 3 1-6 1 3 1-29 1-5 1-7 1 9 1 6 1 3 1-9 1 0 1-3 1 2 1-3 1-7 1 6 1 4 1 12 1 4 1 2 1-5 1 12 1-9 1 19 1-15 1 8 1-5 1 6 1-11 1 5 1 3 1 9 1 19 1 35 1-4 1 17 1 20 1-19 1 63 1-12 1 17 1 14 1 23 1-24 1 34 1-17 1 32 1-34 1 4 1-9 1 44 1-6 1-9 1 2 1 34 1 7 1 5 1-30 1-4 1-3 1-29 1-13 1-4 1 5 1 4 1 14 1-2 1 6 1 32 1-2 1-26 1-6 1-17 1-36 1 28 1-50 1 0 1-15 1 12 1 10 1 22 1-42 1 6 1-17 1 25 1 21 1-16 1-25 1-4 1-23 1 6 1-21 1-14 1 0 1 15 1 18 1 23 1 31 1 10 1-17 1 11 1-2 1-12 1-3 1-15 1 17 1 0 1-27 1-18 1-11 1 0 1 4 1-13 1 3 1 34 1 14 1 21 1 4 1 9 1-14 1 14 1-3 1 23 1 11 1-20 1-29 1 16 1-7 1-18 1 10 1 8 1 25 1 28 1 15 1 10 1 5 1-22 1-6 1 0 1-10 1-13 1-14 1 0 1-15 1-10 1-2 1 0 1 24 1 10 1 1 1 7 1-5 1 25 1 25 1-20 1 25 1 3 1 4 1 1 1-36 1-47 1-4 1 8 1 4 1 29 1 10 1 3 1 23 1 17 1-31 1 13 1-16 1 1 1 5 1 13 1-8 1 9 1 15 1 1 1-23 1-1 1-28 1 8 1-17 1-16 1-12 1 31 1-1 1 36 1-9 1 31 1-39 1 25 1-35 1 17 1 4 1-30 1-34 1 20 1-30 1 15 1-33 1-28 1 23 1-3 1 3 1 33 1-2 1 42 1 23 1 9 1 36 1 1 1-33 1-2 1-41 1-39 1-20 1-38 1-4 1-14 1 29 1 26 1 24 1 21 1-6 1-5 1 19 1-18 1-19 1-27 1-32 1 8 1-10 1-9 1 8 1 3 1 17 1 14 1 14 1 38 1-3 1-8 1-1 1-19 1-7 1-10 1-19 1 1 1 2 1 10 1 19 1 4 1-16 1-16 1 4 1-20 1-9 1 11 1 20 1 7 1-9 1-15 1 2 1-11 1-16 1-16 1 0 1-4 1 23 1 19 1 15 1 14 1-9 1 4 1 16 1-9 1-15 1-17 1-31 1-1 1 2 1 16 1 14 1-10 1 27 1 15 1 27 1-1 1 5 1-24 1-3 1 10 1 11 1 14 1-14 1-9 1-10 1 24 1-33 1-12 1-39 1 7 1-10 1 31 1-16 1-3 1-3 1 9 1 17 1 9 1 25 1 3 1 37 1 17 1 10 1-5 1-10 1-39 1 11 1-27 1-18 1-12 1-13 1-11 1 20 1 3 1 3 1 15 1-10 1-4 1 11 1-5 1-4 1-15 1-22 1 1 1 12 1-7 1-15 1-15 1 40 1 18 1 3 1 22 1 7 1 13 1 15 1-12 1-22 1 15 1-22 1-12 1-17 1-25 1-11 1 16 1 2 1-2 1 12 1 6 1 7 1-6 1 2 1-14 1 5 1-15 1-9 1 30 1 10 1-4 1-9 1-4 1 39 1 32 1-29 1-4 1-3 1 31 1-5 1-21 1-38 1 8 1-9 1-2 1-33 1 4 1-16 1 14 1-14 1 3 1 21 1 12 1 12 1 2 1 8 1 4 1-3 1-25 1 3 1 6 1 2 1-2 1 14 1 2 1-2 1-8 1-13 1-2 1-11 1-2 1-8 1 15 1 1 1-15 1 9 1-7 1-15 1-2 1-4 1 5 1 3 1-15 1 13 1-6 1-2 1 9 1-8 1 12 1 4 1-2 1 18 1 24 1-20 1 2 1-16 1 14 1-2 1 0 1-23 1 6 1-2 1 4 1-7 1-14 1-7 1-2 1 0 1 14 1-5 1-2 1 10 1 1 1 5 1 6 1-8 1 21 1 2 1 5 1 4 1 24 1 35 1 19 1-16 1-6 1 14 1 42 1 14 1-13 1-1 1 17 1 10 1 29 1-35 1-25 1 18 1-10 1 31 1 3 1-52 1 0 1-11 1-35 1 5 1-35 1 30 1 25 1 13 1 19 1 2 1-7 1 75 1-17 1 14 1-2 1 18 1 28 1 30 1-45 1 22 1-9 1 7 1-25 1-36 1-18 1-23 1-47 1-20 1-28 1 19 1 39 1-9 1-25 1 30 1 25 1 5 1-22 1-36 1 8 1 18 1-12 1-8 1 23 1 2 1 1 1-26 1 2 1-9 1-14 1-20 1 9 1 6 1 18 1-12 1 10 1-8 1-12 1-5 1-1 1 3 1 5 1 4 1 4 1 5 1-15 1-1 1-25 1 17 1 1 1 31 1-7 1 13 1 8 1 11 1-13 1 7 1-22 1 16 1 20 1-20 1 34 1-1 1-26 1-1 1 27 1-8 1 56 1 7 1 22 1 9 1 35 1-12 1 6 1-45 1-38 1-28 1 44 1-14 1-28 1-6 1-4 1 31 1 1 1-42 1-35 1 27 1 2 1 4 1-15 1-1 1-4 1 3 1-28 1-17 1-11 1-12 1 19 1 18 1 22 1 29 1 1 1 33 1-4 1-29 1-12 1-13 1-30 1-4 1-32 1-4 1 17 1-14 1-4 1 0 1-11 1 16 1 10 1 12 1 16 1-12 1 22 1 10 1-16 1 8 1-12 1-1 1 0 1-2 1 1 1 11 1 1 1-14 1-15 1 9 1 13 1 5 1-14 1-26 1 15 1-4 1-4 1-33 1-3 1 20 1 16 1 11 1 5 1 7 1-2 1 18 1-14 1-8 1-22 1-8 1 5 1 35 1-32 1 5 1-6 1-3 1-1 1-25 1-32 1 12 1 14 1 38 1 11 1 19 1 32 1 14 1 4 1-24 1-26 1-2 1 5 1-24 1-11 1-10 1 40 1 3 1-7 1-5 1 20 1 1 1-14 1-14 1-8 1-7 1 0 1-9 1 8 1 14 1-23 1-9 1 26 1 6 1 8 1 5 1 6 1-4 1 23 1-4 1-15 1-20 1-13 1 6 1 17 1 22 1-15 1-1 1 20 1 9 1-13 1-17 1-39 1 8 1-8 1-16 1 29 1 4 1-5 1 7 1-11 1 7 1 14 1-38 1 12 1 5 1 4 1 1 1-4 1 1 1-13 1-4 1 15 1 5 1 11 1 3 1-3 1 8 1-9 1-14 1 7 1-7 1 1 1-6 1 2 1 1 1-8 1-23 1-3 1-7 1-2 1-7 1-1 1 3 1 0 1-5 1 12 1 6 1 2 1-5 1 9 1 15 1 15 1-9 1-2 1 12 1-5 1-4 1-11 1-13 1-4 1-10 1-8 1 6 1-1 1-7 1 9 1 4 1-9 1-5 1-7 1-11 1 6 1-14 1 8 1 14 1 0 1-3 1 5 1-1 1 4 1-1 1-12 1 10 1 5 1 1 1-3 1 1 1-2 1 1 1-8 1-3 1 4 1-3 1 0 1-7 1 10 1-5 1 2 1 0 1 11 1-2 1 6 1-11 1 17 1-1 1-7 1-10 1 10 1 5 1 4 1-9 1-1 1 7 1 2 1-11 1-11 1-2 1 0 1 3 1-11 1 5 1 15 1 6 1 11 1-4 1 1 1-2 1 4 1 1 1 3 1-5 1 12 1-3 1 16 1-4 1-12 1-8 1-5 1-3 1 3 1-12 1-3 1 0 1 1 1-4 1-8 1-2 1-1 1 0 1 8 1 14 1 13 1 10 1-4 1 2 1 5 1-11 1-14 1 1 1-1 1 11 1 2 1-5 1 12 1 6 1-8 1-6 1-7 1-6 1-2 1-13 1 0 1-3 1 8 1 13 1 0 1 12 1-3 1-6 1 1 1-19 1-13 1 4 1 0 1 5 1 10 1-4 1 4 1 12 1-1 1 0 1 7 1 0 1 14 1-1 1-12 1 6 1-12 1-3 1-14 1-17 1 7 1 6 1-9 1 4 1-7 1 14 1 3 1 6 1 3 1 9 1-4 1 8 1-6 1 7 1 2 1-5 1-6 1 6 1 1 1-6 1 3 1-9 1-1 1 7 1 6 1-12 1 7 1-8 1-1 1-3 1-11 1 0 1 14 1-4 1 2 1 0 1 2 1 3 1-8 1-2 1-3 1 18 1 10 1 5 1 3 1 12 1 7 1 6 1-13 1-15 1 2 1-3 1-7 1-13 1-11 1-11 1 9 1-3 1-4 1-3 1-7 1 19 1 20 1 0 1-2 1 4 1 13 1 2 1-12 1-4 1-7 1 0 1 8 1-5 1 5 1 2 1 4 1 18 1 8 1 0 1-10 1 4 1 2 1-17 1-10 1-9 1-13 1 1 1 0 1-4 1 7 1-3 1 1 1 3 1 9 1 6 1-1 1-5 1 12 1-6 1 12 1 3 1 8 1 6 1 9 1-17 1 3 1 0 1 4 1-9 1-11 1-3 1 0 1-4 1-7 1-9 1-7 1 6 1 2 1 13 1 7 1 16 1-1 1 8 1-2 1 6 1-12 1-10 1-6 1 5 1-1 1 18 1 2 1 23 1 10 1 4 1-4 1-3 1-15 1-17 1 2 1 21 1-18 1 1 1-4 1-3 1 7 1-23 1-8 1 0 1 16 1-3 1 29 1-7 1 24 1 5 1 1 1-11 1 21 1-5 1 6 1-15 1-15 1 3 1-16 1-23 1-24 1-10 1-8 1 3 1-8 1 6 1 9 1 2 1 17 1 14 1 1 1 8 1 8 1-2 1-1 1-13 1 7 1-4 1-7 1-10 1-4 1 1 1 10 1-16 1-9 1 2 1-4 1-7 1-7 1-12 1-4 1-2 1-3 1 7 1 9 1 3 1-3 1 5 1-1 1 8 1-2 1-7 1 6 1 6 1-8 1 3 1-4 1-5 1 5 1-6 1-3 1 0 1 1 1-2 1 1 1 0 1 0 1 7 1 1 1 2 1 1 1 1 1-6 1 1 1-7 1 8 1-6 1 13 1 1 1-1 1-2 1 4 1-6 1 1 1-10 1 1 1 6 1 3 1-2 1-1 1 4 1-3 1 1 1 0 1 4 1-4 1 5 1-2 1 1 1 5 1 4 1 6 1 3 1-5 1 0 1 0 1-1 1-5 1-11 1-4 1-2 1 4 1 3 1-3 1-3 1 2 1 5 1-3 1-5 1 0 1 11 1 4 1 1 1 0 1 3 1 2 1 7 1-9 1 1 1 7 1-3 1 2 1 7 1-9 1 6 1 7 1-6 1-3 1-2 1-11 1 6 1-8 1-11 1-5 1 8 1-1 1 1 1 1 1 6 1 2 1 3 1 1 1-1 1 4 1-2 1-1 1-8 1 12 1-2 1 2 1-2 1 4 1 8 1 15 1-1 1 8 1 0 1-3 1-12 1-15 1-10 1-15 1-10 1 2 1 1 1 4 1 17 1-2 1 11 1-3 1 4 1-2 1 5 1 0 1 3 1-8 1 10 1 11 1 7 1-8 1-16 1 1 1 2 1 0 1-12 1 2 1-2 1 9 1 21 1-3 1-12 1-4 1-8 1 1 1-3 1-15 1 10 1 0 1 1 1 2 1-2 1 1 1-4 1 0 1-2 1 8 1 9 1 0 1-3 1-7 1-1 1 8 1-10 1-1 1-1 1-5 1 9 1 2 1-6 1 4 1-7 1 2 1 7 1 6 1-9 1 3 1-4 1-2 1 0 1-10 1-8 1 2 1-4 1-1 1 5 1 0 1 2 1 1 1 7 1 1 1 5 1 0 1 6 1 10 1 0 1-2 1 10 1 2 1-4 1-7 1-6 1-4 1-5 1-10 1-1 1 3 1-3 1 0 1-7 1 14 1 7 1-5 1-1 1 7 1 7 1 7 1-14 1 4 1-3 1-4 1 10 1 4 1-2 1 9 1-11 1 13 1 8 1-14 1-15 1-6 1-10 1 9 1-9 1 4 1 5 1 4 1 4 1-1 1-10 1-3 1-4 1-5 1 1 1 1 1 15 1 5 1 1 1-5 1 2 1-5 1 3 1-7 1 1 1 4 1 2 1-4 1 1 1-2 1-9 1 3 1 3 1-2 1 2 1-3 1 3 1-3 1-4 1 1 1 1 1 2 1 0 1-9 1 7 1 1 1-8 1-1 1-1 1 3 1 4 1-5 1 1 1 0 1 1 1-1 1-1 1-2 1 4 1-3 1 7 1 6 1 0 1-2 1 4 1 1 1 7 1 0 1 0 1 7 1 0 1 3 1-4 1 10 1-4 1-6 1-7 1 1 1 6 1 0 1-16 1-1 1-1 1 4 1 1 1-5 1 0 1 0 1 5 1 1 1 2 1 2 1-8 1 15 1 2 1 8 1 5 1 10 1 0 1 10 1-7 1-3 1-5 1-8 1 1 1 0 1-4 1 5 1 8 1-12 1-1 1-7 1 0 1-2 1-6 1 1 1 1 1 1 1-3 1 3 1 11 1-5 1-9 1 6 1 4 1 0 1-7 1-1 1 10 1 1 1-3 1 1 1-2 1 10 1-2 1-5 1 7 1-2 1 7 1-1 1-9 1-7 1-5 1 0 1 14 1-10 1-1 1-4 1 1 1-2 1-9 1-17 1 6 1-2 1 14 1-3 1 9 1 6 1 3 1-3 1 3 1-5 1 5 1-5 1 5 1 2 1 2 1 0 1 3 1 3 1-7 1-5 1 13 1-9 1 1 1-2 1-9 1 1 1 0 1-12 1 8 1 13 1-10 1 8 1 22 1-1 1 4 1 3 1-6 1 1 1-12 1-14 1 2 1 0 1 10 1 6 1 3 1-1 1-5 1-5 1 10 1-13 1-5 1 3 1 16 1 14 1 8 1-20 1 8 1-10 1 5 1-7 1-1 1 4 1 13 1 9 1 14 1-10 1 3 1-5 1-12 1-11 1-10 1-3 1 1 1 0 1-1 1 9 1 12 1-3 1-3 1 7 1 2 1-7 1-8 1-3 1 15 1 7 1-6 1 1 1 6 1 0 1-1 1-21 1 0 1 5 1-13 1 7 1 11 1 3 1 2 1-1 1-9 1-1 1 5 1 6 1-13 1 4 1-11 1 4 1 0 1-6 1-19 1 13 1 2 1 13 1 8 1 7 1 3 1 12 1 2 1-4 1-2 1-11 1-6 1 1 1-14 1-7 1-2 1-13 1 2 1 2 1-13 1 3 1 2 1 4 1 21 1 10 1-3 1 4 1-3 1-4 1-3 1-9 1-2 1 2 1-6 1 12 1-1 1 6 1-2 1-7 1 19 1 2 1-12 1-1 1-10 1-9 1 2 1-19 1-2 1 4 1-3 1-4 1 10 1 15 1 6 1 17 1 0 1 5 1 8 1-8 1-8 1-5 1-11 1 3 1-2 1-2 1 10 1-8 1 0 1-3 1 0 1-5 1 0 1-4 1-4 1 3 1 3 1 1 1 7 1-5 1-1 1 3 1 2 1-2 1 1 1 5 1 13 1 0 1 0 1-7 1-1 1 0 1-6 1-11 1 1 1 0 1 3 1 8 1 8 1-5 1-1 1-6 1-4 1 0 1-9 1-16 1 3 1 4 1 9 1 13 1-1 1 2 1 10 1-8 1-3 1-7 1-5 1 6 1-4 1-3 1 8 1 7 1 5 1 9 1-2 1 0 1-1 1-4 1 0 1-5 1-11 1-2 1 6 1 4 1-4 1-8 1-1 1 1 1 15 1-2 1-5 1 5 1 0 1 5 1-9 1-13 1-5 1 7 1 13 1 10 1 3 1 1 1-2 1 3 1-7 1-7 1-7 1 4 1 11 1 0 1 9 1-3 1-9 1 10 1-3 1-9 1 7 1-7 1 16 1 5 1-1 1-9 1-2 1-9 1-4 1 1 1-7 1-10 1 2 1 3 1 8 1 10 1-11 1 9 1 5 1-3 1 0 1-4 1-3 1-3 1-7 1 6 1 5 1-4 1 2 1 3 1 8 1-1 1 1 1-5 1-1 1-3 1-11 1-7 1 2 1-2 1 2 1 7 1 1 1 0 1 2 1-2 1-3 1 0 1 2 1-7 1-1 1-4 1 10 1-8 1-3 1-7 1 3 1 5 1 0 1 3 1 3 1 6 1-1 1 12 1-2 1-2 1-6 1 10 1 0 1 1 1-12 1-1 1 8 1-2 1 3 1-2 1 2 1 12 1 3 1 0 1-1 1-15 1 12 1-5 1-8 1-1 1 16 1-5 1 5 1-15 1 0 1-2 1 12 1-9 1 5 1 9 1 6 1 13 1 8 1-12 1-13 1 8 1-9 1 2 1-13 1 0 1 0 1 0 1-1 1 3 1-2 1 2 1-11 1 1 1-1 1-6 1 0 1-1 1 6 1 7 1-3 1 5 1 1 1-7 1-5 1-6 1-6 1-1 1 4 1-4 1 1 1 2 1-1 1 6 1 1 1-3 1 0 1 2 1 1 1 8 1-5 1-1 1-3 1 7 1-6 1 5 1-6 1-2 1 23 1-2 1 1 1 9 1-1 1 0 1-3 1-16 1 10 1-8 1-7 1 2 1 1 1 2 1-8 1 0 1 5 1 8 1-10 1 2 1 8 1 9 1-9 1-4 1-3 1 7 1 4 1-2 1 0 1 9 1 1 1 1 1 6 1 9 1-6 1-4 1-8 1-2 1 1 1-13 1-16 1 10 1-3 1 1 1 17 1-7 1 18 1 7 1 2 1-1 1 7 1-2 1-2 1-12 1 0 1-6 1-2 1-4 1-12 1 4 1-2 1-6 1 1 1 10 1 1 1 8 1-4 1-1 1 11 1 3 1 12 1 8 1-2 1 14 1 13 1-11 1-4 1-22 1-15 1-5 1 1 1-14 1 0 1 7 1 21 1 9 1 9 1-5 1 8 1-5 1-5 1-3 1-7 1-9 1 0 1 2 1 7 1 8 1-9 1 1 1 0 1-5 1 12 1-3 1 2 1 1 1 8 1-1 1 8 1-10 1 9 1-7 1 13 1-2 1 3 1-8 1-11 1 1 1-6 1-26 1 1 1-2 1-3 1 2 1-9 1 2 1 7 1-2 1-5 1-2 1 2 1 2 1-7 1 14 1-1 1-1 1 4 1 1 1-3 1 6 1-3 1-5 1 1 1 1 1-5 1-3 1-3 1-10 1 3 1 4 1 3 1 5 1 2 1 6 1-2 1-5 1 0 1 7 1-6 1 8 1-8 1-2 1 14 1 7 1-5 1 5 1-11 1-1 1 1 1-8 1-12 1-7 1 5 1 5 1 1 1 1 1 0 1 3 1 18 1-8 1 9 1 1 1-2 1-4 1 7 1-20 1 0 1-3 1 4 1 9 1 10 1 1 1 9 1 9 1-8 1-1 1-4 1 4 1-10 1-2 1-12 1 2 1-9 1 0 1-7 1 1 1 5 1 9 1-2 1 9 1-4 1 1 1 13 1-6 1 7 1 4 1 10 1 1 1 9 1-11 1-5 1-17 1-2 1-14 1-1 1-1 1 8 1 8 1 9 1-1 1 9 1 7 1-15 1 2 1 3 1-3 1 4 1-5 1-9 1 11 1-11 1-6 1 10 1 2 1-4 1 10 1-10 1 11 1 5 1-16 1 5 1 7 1-6 1-2 1-11 1-3 1 4 1 1 1 2 1 2 1 18 1-3 1 1 1 12 1 4 1-9 1 6 1 4 1 1 1-13 1-6 1-8 1-1 1-14 1-19 1 2 1 21 1-2 1 7 1 15 1 2 1-1 1 2 1-8 1-1 1-13 1-3 1 4 1 10 1 5 1-2 1-2 1 11 1 1 1 8 1 4 1-4 1 5 1 11 1-1 1-9 1-10 1-11 1-3 1-11 1 0 1-3 1 27 1 6 1 7 1 2 1-2 1-9 1-8 1-25 1-8 1-1 1 15 1 11 1 3 1 3 1 10 1 4 1 15 1-12 1 12 1-3 1-1 1-15 1 15 1-25 1 9 1-15 1 19 1-5 1 20 1-9 1 13 1-9 1 11 1-12 1 1 1-6 1-5 1-3 1 7 1-18 1-7 1 10 1-2 1-1 1 3 1 5 1-3 1 13 1 5 1 5 1-7 1 3 1-4 1 8 1-17 1-15 1-4 1 33 1-2 1-14 1 5 1 13 1 7 1 2 1-19 1-3 1 11 1-4 1-1 1-2 1-12 1-13 1 12 1-4 1-6 1 14 1 8 1 10 1-1 1-16 1 1 1 21 1-17 1-5 1-4 1 1 1 0 1-1 1-11 1 16 1 7 1 16 1 18 1 3 1-7 1-10 1-4 1-16 1-15 1-4 1-4 1 12 1 8 1-8 1 1 1 1 1 11 1 6 1 0 1-4 1 1 1 6 1 11 1 1 1 0 1 1 1 6 1-9 1-3 1-11 1-29 1 1 1 19 1-2 1 3 1 5 1-2 1 10 1 5 1-19 1 1 1-2 1 2 1 5 1-1 1 6 1-1 1 34 1 5 1-5 1-5 1-3 1-5 1-13 1-37 1 7 1 10 1 19 1 4 1 15 1 18 1 3 1-18 1-2 1-19 1-2 1-14 1-10 1-5 1 5 1 11 1-2 1 24 1-5 1 5 1 28 1 13 1-17 1 38 1-26 1 0 1-3 1-23 1 0 1 0 1-32 1 2 1 18 1 15 1 3 1-6 1 10 1 5 1 8 1-18 1-22 1-6 1-7 1-1 1-12 1 13 1 7 1 7 1-6 1 5 1 18 1 37 1-20 1 24 1 17 1 23 1 5 1-25 1-37 1 26 1-16 1-21 1 0 1 9 1 18 1 33 1-22 1 28 1 29 1-8 1-1 1-1 1-17 1 3 1-50 1-13 1-11 1 12 1 22 1 23 1 10 1 43 1 7 1 42 1 22 1 6 1-11 1 42 1 73 1 12 1 24 1-21 1-7 1 5 1-1 1-78 1 33 1-44 1-1 1-21 1-6 1 3 1 43 1-35 1 44 1-8 1-12 1-3 1-33 1-31 1-17 1 20 1 13 1 15 1 31 1 43 1-9 1 18 1-43 1-22 1 46 1 17 1-53 1-27 1-14 1-26 1 2 1-38 1-51 1 29 1-7 1 5 1 11 1 22 1 35 1-9 1-19 1 3 1-8 1 17 1-33 1-31 1 47 1-14 1 24 1 33 1 4 1 44 1 11 1-24 1 46 1 17 1-6 1 10 1 11 1-9 1-34 1-48 1-20 1 5 1-30 1-33 1-31 1 9 1-5 1 26 1-41 1 8 1 44 1 66 1 34 1 31 1-18 1 88 1 0 1-8 1 30 1-3 1 103 1 55 1-53 1 42 1-3 1-58 1 17 1-101 1-11 1-7 1-14 1-38 1-4 1-38 1 62 1-22 1-9 1-13 1 58 1-13 1 33 1-53 1-31 1 8 1 0 1-16 1-18 1 42 1 77 1 58 1 24 1 58 1 22 1 98 1-35 1-39 1-81 1 64 1 18 1-35 1-71 1-9 1-60 1 35 1-93 1-59 1 50 1 55 1 53 1 71 1 48 1 63 1 24 1 43 1-20 1-15 1 30 1 31 1 32 1 33 1 84 1-28"/>
<path id="pr" vector-effect="non-scaling-stroke" d="M0 30l1 10 1-6 1 0 1 1 1 1 1 1 1-2 1 5 1-2 1-2 1 0 1-2 1-1 1-2 1 2 1-1 1 1 1 1 1-1 1 0 1 1 1-1 1-1 1 0 1 1 1 1 1 0 1 0 1-1 1-1 1-1 1 0 1 0 1 0 1 0 1 0 1 1 1-3 1 1 1 0 1-2 1 2 1-1 1 1 1 0 1 0 1-1 1-1 1 0 1-1 1-1 1 3 1 0 1-1 1-1 1 0 1-1 1 0 1 1 1 0 1 0 1 0 1-1 1 0 1-2 1 0 1-1 1 1 1 0 1 0 1 0 1 0 1 0 1-1 1-1 1 1 1-1 1 0 1 1 1 0 1 0 1-3 1 0 1 1 1-1 1-1 1 1 1-1 1 0 1 0 1 0 1 0 1 0 1 0 1 0 1 0 1 0 1-1 1 1 1 1 1 0 1 1 1 0 1 1 1 1 1 1 1 2 1-1 1 2 1 0 1 0 1 0 1 1 1 0 1-1 1 2 1 1 1 0 1 1 1 1 1 1 1-1 1 1 1 2 1 0 1 1 1 1 1 1 1 0 1-1 1 2 1-1 1 1 1 1 1 3 1-1 1-1 1 0 1-1 1 0 1 2 1 2 1 1 1 0 1 4 1-2 1 0 1-1 1-1 1 0 1 0 1 1 1 1 1-1 1 1 1-2 1 1 1 2 1 0 1 1 1-1 1 1 1-1 1-1 1-3 1 1 1 1 1 1 1 1 1 2 1-1 1-2 1 0 1 3 1-3 1 0 1 2 1-1 1 1 1 0 1-2 1-1 1 0 1 0 1 0 1 0 1 1 1-1 1-2 1 1 1 0 1-2 1 1 1 0 1 0 1-2 1 0 1 0 1-1 1-2 1-1 1 0 1 1 1-2 1 0 1 0 1-2 1 1 1 0 1 0 1 1 1 1 1-2 1 0 1 1 1 0 1-2 1 0 1 0 1 0 1 4 1 1 1-2 1 1 1-1 1 0 1-1 1 0 1-1 1 1 1-1 1 1 1 0 1-2 1 1 1 0 1 0 1 0 1 0 1 1 1 2 1 0 1 0 1 0 1-2 1 2 1 2 1-2 1 1 1-1 1-2 1 2 1 0 1 0 1 0 1 1 1 0 1 1 1 2 1-1 1 0 1 2 1-1 1-1 1-1 1 1 1 3 1 0 1-1 1 1 1 1 1 0 1 1 1 2 1 0 1 0 1 0 1 3 1-1 1 0 1-2 1-2 1 2 1 3 1 0 1 0 1 1 1 2 1 1 1 1 1 0 1-3 1-1 1 2 1 1 1 0 1-1 1 0 1 1 1 1 1-2 1 3 1 1 1-1 1 1 1 0 1-1 1-3 1 1 1 1 1 2 1 0 1-3 1-4 1 0 1 1 1 0 1-3 1-2 1-2 1 0 1 1 1 1 1-1 1-1 1-1 1-1 1 2 1-2 1-2 1 2 1-4 1-3 1 0 1-2 1-1 1 0 1 0 1-1 1-1 1-2 1 1 1 0 1 0 1 1 1-1 1 1 1 0 1-1 1 0 1 1 1-1 1-1 1-1 1 2 1 0 1 0 1 1 1 1 1 0 1-2 1 0 1 0 1 1 1 1 1 0 1-1 1 0 1-1 1 2 1 0 1-1 1 0 1 0 1 0 1 1 1 0 1 0 1 1 1 2 1-1 1 0 1 1 1 2 1-1 1-1 1-1 1-2 1 0 1-1 1 2 1-1 1 2 1-2 1 1 1-1 1 2 1 1 1 1 1 0 1-1 1 1 1 1 1 0 1 0 1-1 1 1 1 0 1 0 1 0 1 1 1 1 1-2 1 0 1 1 1 2 1 1 1 1 1 0 1 1 1-1 1 3 1-2 1-1 1-1 1 1 1 0 1-1 1 2 1 1 1 1 1 0 1 1 1 1 1 1 1 1 1-2 1-2 1 0 1 0 1 1 1 2 1-1 1 0 1 2 1 1 1 1 1 2 1-1 1-1 1-1 1-2 1 4 1 3 1 1 1 0 1-1 1-1 1-3 1-1 1 1 1 1 1-1 1-1 1-1 1 0 1 6 1 2 1 1 1-1 1-1 1-1 1 1 1 1 1 0 1-2 1-1 1-2 1 1 1 0 1 1 1 2 1-1 1 0 1 2 1-1 1 0 1 2 1 1 1 0 1-1 1-2 1 0 1 3 1 0 1-1 1-4 1 0 1 0 1 2 1 1 1-2 1 2 1 1 1-1 1-1 1 2 1 3 1-1 1 4 1-1 1-4 1-1 1-2 1-2 1 8 1 2 1-1 1 1 1-1 1 0 1 0 1 0 1-2 1 2 1 0 1 0 1 1 1 3 1-3 1 0 1 2 1-2 1 1 1 1 1 3 1-1 1 5 1 2 1-2 1 2 1 0 1 0 1 2 1 2 1-8 1-2 1-1 1 1 1 0 1 1 1 3 1-1 1 3 1-1 1 0 1 1 1-2 1 0 1 2 1 1 1-1 1 0 1-1 1-3 1-1 1 0 1-8 1 0 1-1 1-1 1 1 1-1 1-1 1-1 1 2 1 0 1 2 1-1 1 2 1 1 1-4 1 2 1-1 1 1 1-2 1-2 1 0 1-1 1-2 1-2 1-2 1 0 1-2 1 1 1 1 1-2 1 0 1-1 1 0 1-1 1 0 1 0 1 2 1-2 1-1 1 0 1 0 1-2 1-1 1-2 1 1 1-2 1-1 1-3 1 1 1 1 1 0 1-1 1 2 1 1 1 2 1 1 1 0 1-1 1-1 1-1 1 2 1 1 1 2 1 0 1-1 1-1 1 0 1 1 1 0 1 1 1-1 1 3 1-2 1 3 1 0 1 3 1 0 1 3 1 0 1 1 1 2 1 1 1-2 1 0 1-2 1 0 1 1 1 3 1 0 1 1 1-1 1 2 1-1 1 2 1 2 1 4 1 0 1 1 1 4 1 2 1-1 1 0 1 2 1-1 1 5 1 1 1 0 1 3 1-1 1 0 1 5 1 0 1 5 1 5 1 1 1 3 1 0 1-2 1-1 1 1 1 1 1 5 1 5 1 3 1 1 1-1 1 2 1 5 1 1 1 4 1 1 1 3 1-1 1-1 1 0 1-2 1 4 1-5 1 7 1 4 1-4 1 1 1-1 1-6 1 0 1-2 1 0 1 1 1 3 1 2 1 0 1-8 1-3 1-1 1-3 1 1 1 0 1-4 1-2 1-3 1 2 1-1 1 1 1 2 1-3 1 1 1 0 1 4 1-7 1-4 1 1 1 2 1 1 1 5 1 5 1 2 1 5 1 1 1 13 1-3 1-1 1 4 1 4 1 1 1 4 1 4 1 4 1-2 1 5 1 2 1 2 1 0 1 6 1-1 1 1 1 10 1-2 1 1 1 2 1 4 1 5 1 2 1-1 1 0 1-2 1-2 1-1 1-1 1-13 1 1 1 2 1-3 1 0 1 0 1 0 1-4 1 0 1 2 1-9 1-1 1-6 1 6 1-7 1-1 1-2 1-10 1 2 1-3 1 4 1-4 1-7 1-2 1 0 1-3 1-4 1 5 1-2 1 1 1 0 1 0 1 3 1 0 1-6 1-2 1-2 1-3 1-6 1-4 1 6 1 1 1 8 1-8 1 6 1 1 1 1 1-3 1-3 1-1 1-5 1-1 1-2 1 0 1 1 1-1 1 3 1-1 1 2 1 0 1-3 1 1 1-2 1-2 1 4 1-4 1 1 1 0 1 0 1 3 1-1 1-3 1-3 1 0 1-5 1-2 1 0 1 3 1-1 1-1 1 4 1 1 1 0 1 0 1 1 1 1 1-3 1-5 1-3 1-2 1 0 1-4 1-3 1 1 1-4 1 2 1 0 1 0 1 2 1-3 1-2 1-3 1-3 1 2 1 2 1 0 1 0 1-2 1-1 1 2 1-4 1 1 1 0 1-2 1-5 1-1 1-1 1 1 1 1 1 1 1-1 1 0 1 0 1 1 1 4 1-1 1-3 1 1 1 0 1 4 1-3 1 2 1-2 1 0 1-3 1 1 1-3 1-1 1 1 1-3 1 0 1-2 1 2 1-2 1 2 1-1 1 2 1 1 1-1 1 0 1 3 1 2 1-1 1 0 1-3 1-1 1 1 1 2 1-2 1 0 1 0 1 0 1-2 1-2 1 1 1-1 1 2 1 1 1 0 1-1 1 3 1 1 1-1 1-2 1 0 1-2 1 0 1 1 1-1 1-2 1-2 1-2 1 1 1 4 1 1 1 0 1 1 1-2 1 0 1-3 1 2 1 1 1 0 1 0 1 2 1-1 1-1 1 1 1 0 1 0 1-1 1-3 1 0 1 3 1-1 1 1 1 0 1-3 1 1 1-1 1 1 1 2 1 2 1-4 1-2 1 3 1-2 1 2 1-1 1 0 1-1 1-1 1 2 1 2 1-2 1-1 1-2 1-1 1 1 1 3 1-2 1 1 1 2 1-2 1 0 1 0 1-1 1 2 1 0 1 0 1 1 1-1 1-1 1-1 1 0 1-1 1 3 1-3 1 3 1-1 1-1 1 2 1-2 1-1 1 0 1-1 1 3 1 2 1 0 1-4 1 0 1-1 1 0 1 0 1 0 1 1 1 0 1-2 1 1 1 1 1 0 1-1 1 1 1 2 1 1 1 0 1 0 1 0 1-2 1 2 1 1 1-2 1-1 1-1 1 1 1 2 1-2 1 0 1-1 1 2 1 0 1 2 1 0 1 1 1-2 1 0 1 1 1 1 1 1 1 0 1-1 1-2 1 1 1 0 1 1 1 0 1-2 1 1 1 2 1 0 1 2 1 1 1 0 1 1 1 0 1-2 1 0 1-1 1 2 1-2 1 4 1-1 1-2 1 0 1 0 1 0 1 0 1-1 1 0 1 1 1 1 1 2 1-1 1-1 1 0 1-1 1 2 1-1 1-1 1-3 1-1 1 0 1 8 1 1 1 1 1 0 1 0 1-1 1-1 1 1 1-3 1 0 1 2 1 1 1 0 1-3 1 2 1-1 1-2 1-1 1-1 1 0 1-1 1 3 1-1 1-1 1-2 1 1 1 0 1 5 1-1 1 2 1-9 1 0 1-1 1 1 1 5 1 4 1 5 1 6 1 0 1 4 1 5 1-1 1 17 1 4 1 11 1 4 1 9 1-1 1 9 1 12 1 11 1-1 1 4 1 7 1 11 1 5 1 11 1 7 1 11 1 4 1 9 1 2 1 7 1 10 1-1 1 5 1-1 1 2 1 5 1 5 1 5 1 5 1-2 1 1 1-8 1 0 1-4 1 2 1 4 1-10 1-6 1-3 1 1 1 1 1-3 1-5 1-6 1-11 1-5 1 4 1-4 1-2 1-5 1-10 1-3 1-7 1 2 1-5 1 0 1-4 1-4 1 3 1-12 1-2 1 4 1 1 1-3 1 4 1-7 1 3 1-2 1 1 1-5 1-8 1-2 1 4 1-1 1 3 1 3 1-8 1 2 1 4 1 7 1 1 1 5 1 7 1 2 1 3 1-3 1-4 1-1 1-4 1 1 1 7 1 3 1 3 1 6 1 3 1 2 1-2 1 2 1 8 1 7 1 6 1 0 1-2 1 1 1-2 1-3 1 4 1 1 1 4 1-2 1 5 1-3 1-3 1 3 1 4 1 5 1 11 1 1 1 0 1 1 1-7 1-9 1-2 1 6 1-1 1 4 1 3 1-2 1-2 1 2 1 1 1 5 1 4 1 3 1 3 1 3 1 1 1 3 1 3 1 1 1-3 1 2 1-2 1-3 1-7 1 3 1-7 1 4 1 0 1 7 1 3 1 11 1-4 1-3 1-6 1-2 1 4 1-4 1-2 1-4 1-3 1-4 1-7 1-2 1-1 1-5 1-1 1 2 1-8 1 2 1 9 1 2 1 9 1-2 1-1 1-6 1-4 1-8 1-2 1-8 1-2 1-11 1 10 1-3 1 6 1-2 1-10 1 4 1 1 1 2 1-2 1-3 1-2 1-1 1-4 1 0 1 2 1-8 1 1 1-8 1-4 1 3 1-9 1 0 1-1 1-3 1 0 1 3 1 4 1 0 1 1 1 5 1-6 1-4 1-7 1-5 1 2 1-2 1-2 1 1 1 5 1 1 1 0 1-3 1 1 1-2 1-4 1 0 1-3 1-4 1-2 1-3 1 2 1 1 1-2 1 2 1 2 1-1 1-2 1-3 1-6 1-5 1-1 1 4 1 5 1 0 1 3 1 1 1 4 1-4 1 0 1-1 1 1 1 9 1 3 1 10 1-4 1 2 1-3 1 7 1-4 1-4 1-3 1-6 1 3 1 3 1-1 1-3 1-1 1 3 1 6 1 5 1 8 1-4 1 3 1 5 1-1 1 1 1-4 1-1 1-2 1 2 1 2 1-6 1-5 1-10 1 8 1 1 1 4 1 0 1-1 1-2 1 1 1 5 1 2 1-6 1-1 1 0 1 0 1-2 1-2 1-4 1-2 1 2 1-8 1 2 1-3 1 2 1 2 1 4 1-6 1 2 1 1 1-3 1 1 1-1 1-4 1-2 1 2 1-4 1 3 1 3 1-2 1-4 1-1 1 2 1 3 1-1 1-2 1 7 1 2 1 1 1-9 1-3 1 8 1 0 1-1 1-3 1-3 1 1 1 2 1-1 1-3 1 3 1 0 1 2 1-4 1-1 1-6 1 1 1-3 1-1 1 5 1 0 1 2 1-2 1 2 1 1 1 1 1-8 1-2 1 4 1 1 1 2 1-5 1-6 1-1 1-3 1 2 1-7 1 0 1 0 1 1 1 0 1 0 1-1 1 3 1-3 1 1 1-4 1 3 1 0 1-5 1-4 1-2 1-1 1-6 1 4 1-1 1 3 1-3 1-4 1 2 1 1 1-4 1-1 1 0 1 2 1-2 1 3 1-2 1-3 1 1 1-3 1 0 1-1 1-1 1-1 1 1 1 4 1-2 1-2 1 0 1 3 1-3 1 4 1 3 1 0 1 0 1-1 1 3 1 4 1 7 1 2 1 1 1-2 1 6 1 10 1 7 1 4 1 7 1 4 1 1 1 12 1 3 1 5 1 10 1 4 1 11 1-1 1 1 1 3 1 0 1 2 1 5 1 1 1 8 1 1 1 6 1 4 1 1 1-3 1 11 1-1 1 9 1 7 1 4 1-2 1 1 1 4 1 4 1 3 1 6 1-8 1-3 1 3 1-6 1-4 1-9 1-1 1 8 1 7 1 2 1-3 1 2 1 5 1-7 1-3 1-5 1 0 1 1 1 1 1-15 1 2 1-6 1-3 1-10 1-6 1-8 1-8 1-7 1-2 1-4 1 0 1 0 1-2 1-4 1 1 1 2 1 2 1-4 1-8 1 2 1 3 1-6 1-7 1 1 1-5 1 5 1-1 1 6 1-4 1-3 1-2 1-3 1 2 1 7 1 0 1 2 1 5 1-2 1 3 1 0 1-3 1 3 1 6 1 5 1 14 1 6 1 4 1-1 1 10 1 2 1 5 1 2 1 1 1-1 1 15 1 2 1-5 1-3 1 3 1 5 1-4 1 3 1-2 1-1 1 3 1 0 1-3 1 1 1-6 1-2 1-1 1-1 1-9 1-4 1-8 1-3 1-2 1 4 1-9 1 2 1-7 1-4 1 3 1 1 1-13 1-7 1 1 1-6 1 1 1-8 1 1 1-4 1-1 1-2 1-4 1 3 1-1 1-2 1 2 1 1 1 1 1 2 1 2 1 2 1-6 1-3 1-4 1-3 1 2 1-9 1 0 1 2 1 4 1 0 1 0 1-3 1 2 1 0 1-3 1-1 1 1 1 5 1 2 1 1 1-1 1-3 1-6 1 8 1-3 1-2 1 0 1-6 1 1 1 3 1 0 1-2 1-3 1-3 1-6 1-2 1-1 1 1 1-1 1 4 1 2 1 5 1 2 1 3 1 3 1 1 1-1 1-3 1 2 1-6 1-1 1-1 1 11 1-5 1-1 1 2 1 4 1 2 1-6 1-1 1 1 1-4 1 4 1 3 1 4 1 3 1 1 1-4 1-1 1-3 1 1 1 1 1-3 1-3 1 1 1 3 1-1 1-2 1-3 1 4 1 3 1 8 1-9 1-2 1 4 1 0 1-4 1 0 1 2 1-5 1-2 1 2 1 7 1-1 1-3 1 0 1-1 1 2 1-1 1-4 1 1 1-4 1 0 1 0 1-5 1 0 1-3 1 5 1 2 1 0 1-2 1-9 1 3 1-1 1-2 1-3 1 4 1 1 1 1 1-1 1 2 1 1 1-11 1-2 1 1 1-3 1 2 1-2 1-2 1-1 1-5 1-2 1-1 1 3 1 0 1-3 1 3 1 0 1-2 1-4 1 0 1 2 1-4 1 1 1-1 1-2 1-6 1-1 1 0 1-1 1 0 1-3 1 3 1-1 1-2 1 0 1-2 1-1 1-1 1-1 1 1 1 3 1-3 1-5 1 1 1-1 1-3 1-2 1-4 1 2 1-3 1-2 1 0 1-2 1 0 1 0 1 1 1-1 1 0 1-2 1-2 1 0 1 0 1-1 1 1 1 2 1 2 1 0 1 0 1 1 1 1 1-2 1 0 1 0 1 2 1 1 1 1 1-1 1 0 1 0 1-1 1-1 1 0 1-1 1 0 1 1 1-1 1 1 1 1 1 2 1 3 1 0 1-1 1 0 1 1 1 1 1 0 1 2 1 2 1 0 1 0 1 0 1 1 1 1 1-2 1 0 1 0 1-1 1 0 1-2 1 1 1 0 1 1 1 0 1-1 1-1 1 3 1 3 1-1 1 2 1-4 1 0 1 0 1 1 1-1 1-1 1 1 1 0 1-2 1 0 1 0 1 1 1 0 1 1 1 0 1-3 1-1 1-1 1 2 1 0 1 2 1 4 1 0 1 1 1-1 1 1 1-2 1-5 1-3 1-2 1 3 1-1 1 2 1 0 1-1 1 0 1-2 1 0 1 1 1 3 1 0 1-2 1-1 1 1 1-2 1 2 1 0 1-1 1-1 1 2 1-3 1-4 1 0 1 1 1 1 1 1 1 2 1 3 1-1 1 1 1-1 1 2 1 0 1 1 1 1 1-3 1 2 1-2 1 0 1-2 1-2 1 3 1 1 1-3 1 3 1-1 1 1 1 1 1-1 1 0 1 2 1 1 1 1 1-3 1 1 1-1 1-3 1 0 1 1 1 3 1 2 1 0 1-1 1 1 1 3 1 1 1 0 1-1 1 0 1 0 1 0 1-2 1-2 1-1 1 0 1 2 1-1 1 0 1-1 1 2 1 1 1 1 1 0 1 1 1 2 1-1 1 1 1 1 1-1 1-3 1-1 1 0 1 0 1-1 1-1 1 3 1 1 1 3 1-2 1 1 1 1 1-1 1 2 1 2 1-2 1-2 1 2 1 1 1 2 1-2 1-3 1-1 1 1 1 2 1-2 1 0 1 3 1-3 1 3 1 2 1 2 1 0 1 2 1-2 1-3 1-1 1 0 1 1 1 0 1 0 1-2 1 0 1-1 1 1 1 2 1 1 1 0 1 2 1 0 1 4 1 0 1 3 1-2 1 1 1-1 1-1 1-1 1 3 1 0 1 2 1-1 1 3 1-1 1 5 1 1 1-1 1-3 1-2 1 6 1 5 1 0 1 2 1 0 1-1 1 1 1-1 1 2 1-2 1 4 1-4 1 5 1-2 1 5 1 2 1 1 1 4 1 2 1 3 1-1 1-2 1-2 1-4 1-3 1-4 1-1 1-3 1 0 1 2 1-6 1-6 1 2 1-1 1 2 1 3 1 2 1 1 1-2 1 1 1-5 1 0 1-2 1 2 1-6 1-6 1 0 1-2 1-2 1-5 1-2 1-2 1-3 1-2 1 0 1 0 1 0 1 0 1-1 1-2 1 2 1-1 1-2 1 1 1-4 1-3 1-3 1-1 1-2 1 0 1-1 1-1 1-5 1-2 1 1 1-1 1 0 1-1 1-3 1-2 1 0 1 1 1 0 1 3 1 1 1 0 1 0 1 0 1 0 1-1 1-1 1 2 1 0 1 1 1 1 1-2 1-1 1 2 1-1 1-1 1 1 1 0 1 0 1 1 1 0 1 0 1 1 1 0 1 0 1 1 1 1 1-1 1 2 1-2 1 1 1 0 1 2 1 3 1 1 1 0 1 0 1-2 1 2 1-2 1-1 1 1 1 0 1 0 1 0 1 1 1 0 1 0 1 0 1-1 1-1 1 0 1 3 1 1 1 0 1 0 1-1 1 0 1 1 1 1 1 1 1 1 1-2 1-2 1 1 1 1 1 2 1 3 1-1 1-1 1 0 1 0 1 2 1-1 1 0 1-2 1 2 1-1 1-1 1 3 1 2 1 0 1-3 1 0 1-1 1 0 1 2 1 1 1-3 1 1 1 0 1-2 1 0 1 2 1 2 1 2 1 0 1 0 1-1 1 0 1 0 1 1 1-2 1-1 1 0 1 1 1-2 1 1 1 5 1-3 1 0 1-1 1 1 1-2 1 2 1 4 1-1 1-2 1 3 1 1 1 0 1 0 1 0 1-2 1-3 1 0 1-2 1-2 1 0 1 3 1 6 1 0 1-1 1 1 1-2 1 0 1 2 1 2 1-2 1-1 1-2 1 0 1-2 1 3 1 0 1-2 1-2 1 2 1 0 1-4 1 0 1 0 1 1 1 0 1-1 1 0 1-2 1-1 1 2 1 0 1-6 1 1 1 0 1 0 1 2 1 4 1-2 1-2 1-2 1 0 1 0 1-1 1 2 1-2 1-2 1-2 1 1 1-1 1-3 1 2 1 1 1 0 1-1 1 0 1 1 1 1 1 2 1 2 1-1 1 0 1 0 1-1 1 0 1 1 1-1 1-4 1 1 1 0 1 0 1 1 1-1 1 5 1-1 1 0 1 1 1 1 1 1 1 1 1 1 1 0 1-3 1 0 1 2 1 3 1-1 1 0 1-2 1 1 1-1 1-2 1 0 1-1 1 0 1 1 1 0 1 2 1 0 1 0 1 1 1-1 1 0 1-4 1 0 1 0 1 0 1 0 1 1 1 0 1-1 1-2 1 1 1 0 1-2 1-1 1 0 1-2 1 1 1-3 1-1 1 1 1 0 1 2 1 2 1-2 1-1 1-3 1 1 1-2 1 1 1 1 1 1 1 0 1-1 1-1 1 0 1 0 1-3 1-1 1 0 1 0 1 0 1 1 1-1 1-2 1-1 1-1 1 0 1 0 1 1 1-1 1 2 1 0 1-2 1 0 1 1 1 1 1 0 1 3 1 1 1-1 1 0 1 1 1 1 1 4 1 0 1-1 1 0 1 1 1 2 1 0 1 0 1 0 1-1 1 1 1 1 1 1 1 0 1 0 1 1 1 1 1-1 1 0 1-1 1 4 1 0 1 2 1 0 1 2 1 0 1 0 1 2 1-2 1 3 1-4 1 3 1 0 1 2 1 2 1-1 1 0 1-1 1 2 1 1 1 0 1 1 1 0 1 0 1 0 1-1 1 2 1 1 1 0 1 0 1-2 1 0 1-2 1-2 1 0 1 2 1-2 1-1 1 1 1-2 1 3 1-2 1 1 1 1 1-3 1 1 1 1 1 0 1-1 1 0 1 1 1 2 1-2 1 0 1 0 1 0 1-2 1-3 1-2 1 2 1-2 1 3 1-1 1 2 1-2 1-3 1 1 1 0 1 0 1 1 1-1 1 0 1-2 1 0 1 0 1 0 1 2 1-1 1 0 1 3 1-2 1-3 1 1 1 1 1 0 1-1 1 2 1 1 1 4 1-2 1 3 1 1 1 0 1 0 1 1 1 2 1-1 1-1 1 0 1-1 1 1 1 2 1 3 1-1 1-1 1-2 1-3 1 5 1 1 1-1 1 1 1 3 1 1 1 2 1 0 1 2 1-1 1 1 1-2 1 4 1 0 1-2 1 5 1 1 1-2 1 0 1 2 1 1 1-2 1 2 1 1 1-4 1-1 1 1 1 2 1 3 1 3 1-3 1 0 1 1 1-1 1-3 1-1 1 4 1 3 1-3 1 4 1-1 1-1 1-1 1-3 1 1 1-4 1-2 1 3 1 0 1 1 1 1 1 3 1-3 1-3 1 4 1 2 1-2 1 0 1-2 1-2 1-2 1 1 1-3 1 3 1 2 1 1 1-3 1-2 1 3 1 0 1 1 1 2 1 1 1-1 1-3 1 2 1-1 1-1 1-2 1-3 1-1 1-2 1 1 1 0 1-2 1-2 1 5 1 1 1-1 1 1 1-1 1-1 1 1 1 0 1 0 1-3 1-2 1 0 1-2 1 0 1-1 1-1 1 2 1 1 1-1 1-3 1 1 1-2 1 0 1 1 1-1 1 0 1 0 1-1 1 0 1 3 1-3 1 1 1 1 1 0 1 1 1 0 1 1 1-2 1-1 1 1 1 1 1-1 1 1 1-2 1-1 1 0 1-4 1-1 1 2 1 1 1-1 1 2 1 0 1 1 1 1 1 0 1 1 1 1 1 0 1-4 1 0 1-2 1 3 1 0 1-1 1 0 1-2 1 0 1 1 1-1 1 0 1 0 1-1 1 1 1 3 1-1 1-1 1 0 1-1 1 0 1 0 1-2 1 0 1-1 1 1 1 3 1 0 1 0 1 0 1-2 1-1 1-3 1-1 1 1 1 0 1 0 1 1 1 0 1 0 1 4 1 0 1-1 1 0 1-2 1-2 1 0 1 2 1 1 1 1 1 1 1-1 1 1 1-1 1 1 1 2 1-2 1 0 1 0 1-3 1 3 1-1 1 1 1-2 1 0 1 4 1 1 1 1 1-2 1-1 1-3 1-1 1 2 1-1 1 3 1 1 1 1 1 1 1-2 1-1 1 1 1 3 1 1 1 2 1-1 1-1 1 1 1 1 1 0 1 1 1-2 1 1 1 2 1 0 1-3 1-2 1-1 1 0 1 2 1 0 1 1 1 1 1-2 1 1 1-2 1-1 1-1 1-2 1 2 1 2 1-3 1-1 1 2 1 0 1-1 1-1 1-1 1-2 1 0 1 0 1 0 1 0 1-1 1 1 1 2 1 0 1-1 1-1 1-3 1 0 1 0 1 1 1-1 1-1 1-2 1 1 1-1 1 0 1-2 1-1 1 1 1-2 1 0 1-2 1 2 1-2 1 2 1 1 1-1 1 1 1 2 1 1 1-2 1 0 1-1 1 0 1 1 1 2 1 1 1 0 1 2 1-1 1 2 1 1 1 0 1 1 1 0 1 1 1 1 1 5 1-2 1 1 1-2 1-1 1-1 1 4 1 0 1 0 1 3 1 1 1 0 1 1 1 0 1 0 1 3 1-1 1 1 1-3 1 1 1 0 1-3 1 1 1 1 1 1 1 0 1-4 1 2 1-2 1 0 1-3 1 2 1 0 1 2 1 0 1 0 1-2 1-3 1-1 1-2 1-2 1-2 1-1 1-1 1 1 1-2 1-1 1 0 1 0 1-2 1 0 1 1 1-2 1 1 1-1 1-1 1 1 1 0 1 0 1 1 1-1 1-1 1 4 1-2 1 1 1 1 1 1 1 0 1 0 1 1 1 2 1 0 1-2 1 2 1 0 1 0 1 0 1 0 1 1 1 1 1 0 1 0 1 1 1 0 1-1 1 1 1 0 1 0 1 3 1-1 1 2 1 2 1-5 1 1 1 1 1 3 1-2 1 1 1 1 1-2 1-1 1 0 1 0 1 1 1-1 1 1 1 4 1-2 1 3 1 0 1 3 1-1 1 0 1 1 1 0 1 1 1 1 1 0 1-2 1 0 1-2 1-2 1 1 1-1 1-1 1-2 1 1 1 1 1 0 1 0 1 2 1 2 1 5 1 1 1 1 1 2 1 0 1 1 1-3 1-2 1-3 1 1 1 1 1-3 1 0 1 2 1 3 1 1 1 3 1 0 1 2 1-1 1 1 1 3 1-1 1-1 1 0 1 0 1 2 1 3 1-1 1-2 1-4 1-3 1 3 1-2 1 1 1 2 1 1 1 0 1 3 1 2 1-1 1 3 1 5 1-1 1-4 1-1 1-3 1 1 1-1 1 0 1 0 1-3 1 0 1 0 1-2 1 0 1 0 1-3 1-2 1-1 1 0 1 1 1-5 1 4 1-4 1-2 1-2 1 1 1-2 1-2 1 1 1-2 1-6 1-1 1-1 1-1 1 0 1-1 1-1 1 2 1-1 1 1 1 0 1 1 1 0 1-2 1 0 1 2 1 0 1 2 1 0 1-2 1 3 1-1 1 0 1 2 1-1 1-1 1-1 1 0 1-4 1 0 1 3 1 0 1 0 1 0 1 1 1-1 1 4 1 0 1 1 1-1 1 0 1-2 1 1 1 1 1-1 1-1 1 2 1 0 1 2 1 2 1-1 1 0 1-2 1 0 1 2 1 3 1 0 1 1 1-1 1 1 1-3 1 0 1 2 1-1 1 2 1 1 1-4 1 1 1-2 1 1 1 3 1 1 1 2 1 1 1 3 1-1 1 2 1-2 1-2 1-2 1-2 1-2 1 0 1 2 1 1 1 0 1 1 1-1 1 3 1 1 1 1 1 2 1 1 1 1 1-2 1 0 1 0 1 1 1 0 1 0 1 0 1 0 1-3 1 1 1-3 1 2 1-1 1-1 1 2 1 3 1 0 1-1 1 0 1-1 1-2 1 1 1 1 1 1 1 1 1-2 1 2 1 0 1 1 1 0 1 2 1 3 1 0 1-3 1 1 1 1 1-4 1-1 1-1 1-2 1 5 1-2 1 1 1 4 1-3 1-2 1 0 1 3 1 1 1-2 1 3 1-2 1 0 1 0 1-1 1 0 1 1 1 0 1-1 1 3 1-2 1-1 1 3 1 3 1 0 1-2 1 1 1 1 1 0 1 3 1-2 1 6 1-2 1-1 1 1 1 0 1 0 1-2 1 0 1 0 1-1 1 3 1 1 1-1 1 0 1 3 1-2 1 2 1-1 1 2 1 0 1-2 1-3 1 1 1-1 1 3 1 2 1 4 1 0 1 1 1 1 1-5 1 0 1 2 1 2 1 0 1 2 1 1 1 1 1 3 1-2 1-3 1-1 1 1 1 1 1-1 1 3 1-6 1 3 1-2 1 2 1-1 1 4 1-2 1 2 1-3 1-3 1-2 1 8 1-2 1-3 1 1 1 1 1-3 1 1 1 3 1-1 1 1 1 0 1 0 1 0 1 0 1-2 1 2 1 0 1-2 1 2 1 3 1-1 1-4 1-2 1 1 1 3 1-1 1 0 1 1 1 1 1-2 1-6 1 0 1 6 1 1 1 2 1 3 1-1 1-4 1-1 1 2 1-2 1-1 1 2 1 1 1 3 1-3 1 2 1-1 1-4 1 3 1 0 1 3 1 0 1 2 1-5 1 3 1 4 1 1 1 3 1 2 1-1 1-2 1-4 1-4 1-2 1 2 1 1 1 2 1 1 1-3 1 2 1 2 1-1 1 2 1-1 1 0 1-1 1 2 1 3 1-3 1 8 1 0 1-1 1-1 1 0 1-1 1-7 1 0 1 1 1 0 1 6 1 1 1 5 1 4 1 0 1-7 1 1 1 0 1-1 1 3 1-1 1-2 1-2 1 3 1 0 1 5 1 0 1 1 1 3 1 1 1-9 1 8 1 0 1 1 1 1 1-1 1 4 1 0 1-1 1-2 1 0 1 4 1-4 1-1 1 1 1 4 1 0 1 1 1-1 1-2 1 0 1 2 1 0 1 1 1 3 1-5 1-3 1 0 1 0 1 6 1 0 1-1 1 6 1 3 1 1 1 0 1-3 1 5 1 4 1 0 1-1 1 0 1 3 1 6 1-2 1 9 1 5 1 1 1 5 1 5 1 3 1-1 1 1 1-2 1-3 1 6 1 11 1 8 1-3 1 2 1 5 1 1 1 7 1 7 1 4 1 13 1 28 1 1 1 10 1 8 1 5 1 4 1 8 1 1 1 15 1-7 1 0 1 3 1 2 1 9 1 16 1 6 1 15 1 1 1 3 1-2 1-4 1 4 1-1 1 10 1 2 1-3 1 1 1 4 1 4 1-6 1-18 1-5 1 2 1 9 1-6 1-4 1-9 1-5 1-12 1 3 1-3 1 6 1-4 1-9 1-13 1 1 1 1 1-2 1 4 1-3 1-2 1-3 1-2 1-11 1 5 1-2 1-5 1-4 1 0 1 4 1 2 1 4 1-2 1-5 1 6 1 10 1 9 1 6 1-4 1-5 1 3 1 1 1 4 1 0 1-4 1-6 1-15 1 12 1-5 1 5 1 13 1 7 1 9 1 0 1-4 1 19 1 0 1 3 1 14 1-3 1 22 1 15 1-5 1 6 1 4 1-3 1-1 1 1 1 20 1 5 1 7 1-6 1 3 1-2 1 23 1 12 1 5 1-3 1 17 1-1 1-4 1-6 1-2 1-2 1 2 1-7 1-5 1 7 1 5 1 12 1-20 1 3 1 10 1 8 1-1 1 10 1-10 1 18 1 9 1 4 1-5 1 6 1-3 1 6 1-17 1 0 1 17 1 11 1 5 1 16 1 10 1 10 1 13 1 26 1 6 1 5 1 27 1 8 1-1 1 7 1 40 1-14"/>
</defs>
<rect x="0" y="0" width="881" height="491" fill="#ededed"/>
<text x="4" y="31" style="font-family:'Liberation Sans',sans-serif;font-weight:bold;font-size:32px" fill="#000" textLength="463" lengthAdjust="spacingAndGlyphs">Trade Policy Uncertainty: Charts</text>
<rect x="3" y="90" width="878" height="1" fill="#dddddd"/>
<rect x="3" y="91" width="878" height="400" fill="#ffffff"/>
<path d="M127.5,92 V51.5 a4,4 0 0 1 4,-4 H225.5 a4,4 0 0 1 4,4 V92" fill="#fff" stroke="#dddddd" stroke-width="1"/>
<text class="s" x="17.8" y="74" fill="#000" textLength="92.5" lengthAdjust="spacingAndGlyphs">Monthly Index</text>
<text class="s" x="141.2" y="74" fill="#555" textLength="73.9" lengthAdjust="spacingAndGlyphs">Daily Index</text>
<!-- gridlines -->
<g stroke="#eeeeee" stroke-width="1" fill="none">
<path d="M125.5,116V368M251.5,116V368M377.5,116V368M502.5,116V368M628.5,116V368"/>
<path d="M63,356.5H715M63,288.5H715M63,219.5H715M63,151.5H715"/>
</g>
<g class="t" text-anchor="end">
<text x="61" y="360.5">0</text>
<text x="61" y="292.5" textLength="21.5" lengthAdjust="spacingAndGlyphs">500</text>
<text x="61" y="223.5" textLength="29" lengthAdjust="spacingAndGlyphs">1000</text>
<text x="61" y="155.5" textLength="29" lengthAdjust="spacingAndGlyphs">1500</text>
</g>
<g class="t" text-anchor="middle">
<text x="125.7" y="381.5" textLength="30" lengthAdjust="spacingAndGlyphs">2016</text>
<text x="251.5" y="381.5" textLength="30" lengthAdjust="spacingAndGlyphs">2018</text>
<text x="377.2" y="381.5" textLength="30" lengthAdjust="spacingAndGlyphs">2020</text>
<text x="502.2" y="381.5" textLength="30" lengthAdjust="spacingAndGlyphs">2022</text>
<text x="628.5" y="381.5" textLength="30" lengthAdjust="spacingAndGlyphs">2024</text>
</g>
<text class="t" transform="translate(24.2,242) rotate(-90)" text-anchor="middle" style="font-size:14px" textLength="226" lengthAdjust="spacingAndGlyphs">Index (100 = 1% Article Share)</text>
<!-- data -->
<g class="ln" fill="none" stroke-width="2">
<g clip-path="url(#clipMain)">
<g transform="translate(62.7,356.5) scale(0.17207,-0.137)">
<use href="#pb" stroke="#3a75b0"/>
<use href="#po" stroke="#f08c3a"/>
<use href="#pr" stroke="#b8322c" stroke-width="2"/>
</g></g>
<g clip-path="url(#clipSl)"><g transform="translate(62.7,448.6) scale(0.17207,-0.02707)">
<use href="#pb" stroke="#3a75b0"/>
<use href="#po" stroke="#f08c3a"/>
<use href="#pr" stroke="#b8322c" stroke-width="2"/>
</g></g>
</g>
<!-- slider handles -->
<rect x="60.5" y="414.5" width="4" height="25" fill="#fff" stroke="#444" stroke-width="1"/>
<rect x="713.5" y="414.5" width="4" height="25" fill="#fff" stroke="#444" stroke-width="1"/>
<!-- legend -->
<g stroke-width="2" fill="none">
<path d="M733,130.5H763" stroke="#3a75b0"/>
<path d="M733,149.5H763" stroke="#f08c3a"/>
<path d="M733,168.5H763" stroke="#b8322c"/>
</g>
<g class="t">
<text x="768" y="134.5" textLength="57" lengthAdjust="spacingAndGlyphs">TPU Daily</text>
<text x="768" y="153.5" textLength="88" lengthAdjust="spacingAndGlyphs">7-day Average</text>
<text x="768" y="172.5" textLength="95.5" lengthAdjust="spacingAndGlyphs">30-day Average</text>
</g>
</svg>
</body></html>
